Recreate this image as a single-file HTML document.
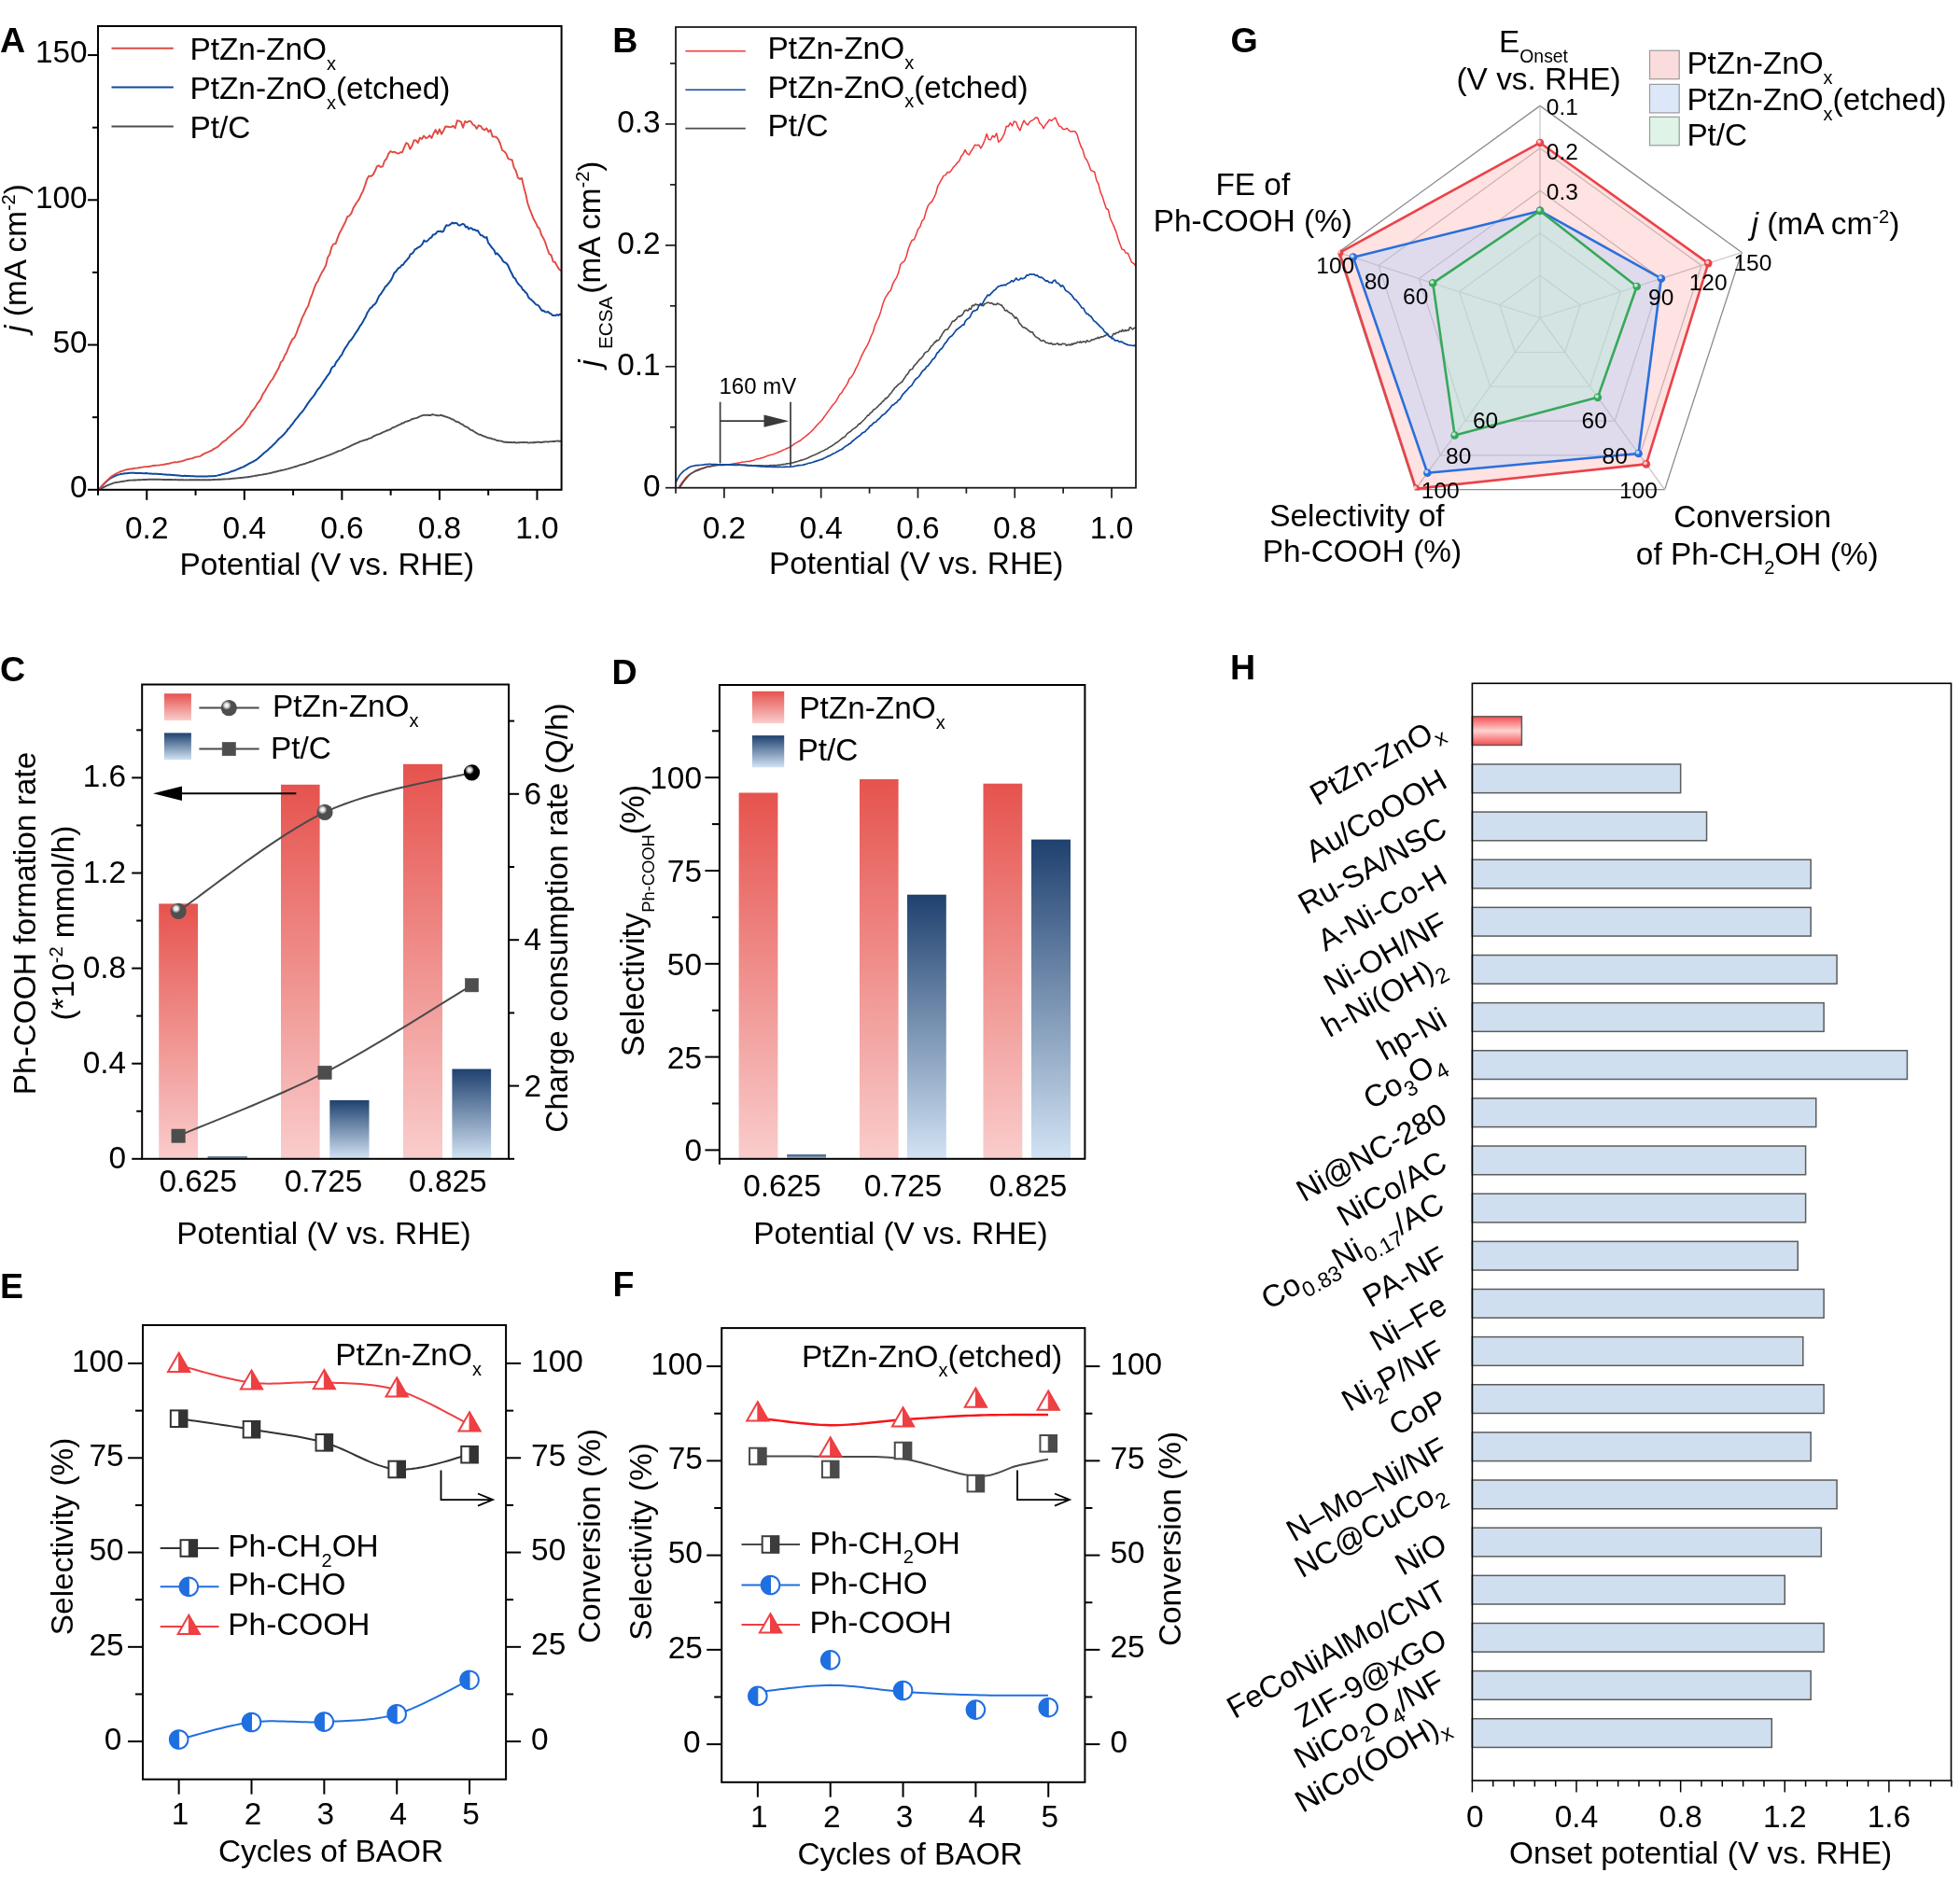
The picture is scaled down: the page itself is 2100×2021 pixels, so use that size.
<!DOCTYPE html>
<html><head><meta charset="utf-8"><title>Figure</title>
<style>html,body{margin:0;padding:0;background:#fff;}svg{display:block;will-change:transform;}text{font-family:"Liberation Sans",sans-serif;}</style>
</head><body>
<svg width="2100" height="2021" viewBox="0 0 2100 2021">
<defs>
<linearGradient id="gr" x1="0" y1="0" x2="0" y2="1"><stop offset="0" stop-color="#e6534e"/><stop offset="1" stop-color="#f9cdcc"/></linearGradient>
<linearGradient id="gb" x1="0" y1="0" x2="0" y2="1"><stop offset="0" stop-color="#1f416f"/><stop offset="1" stop-color="#d2e3f4"/></linearGradient>
<linearGradient id="gh" x1="0" y1="0" x2="0" y2="1"><stop offset="0" stop-color="#f54e4e"/><stop offset="0.5" stop-color="#fdd2d2"/><stop offset="1" stop-color="#f54e4e"/></linearGradient>
<radialGradient id="sph" cx="0.36" cy="0.34" r="0.28" fx="0.36" fy="0.34"><stop offset="0" stop-color="#ffffff"/><stop offset="0.45" stop-color="#e2e2e2"/><stop offset="0.8" stop-color="#8a8a8a"/><stop offset="1" stop-color="#4e4e4e"/></radialGradient>
<radialGradient id="sphk" cx="0.36" cy="0.34" r="0.28" fx="0.36" fy="0.34"><stop offset="0" stop-color="#ffffff"/><stop offset="0.45" stop-color="#dcdcdc"/><stop offset="0.8" stop-color="#606060"/><stop offset="1" stop-color="#000000"/></radialGradient>
<clipPath id="clipA"><rect x="105" y="28" width="496.6" height="497.3"/></clipPath>
<clipPath id="clipB"><rect x="724" y="29" width="493" height="494.2"/></clipPath>
<clipPath id="clipG"><polygon points="1650.00,112.40 1867.13,270.15 1784.19,525.40 1515.81,525.40 1432.87,270.15"/></clipPath>
</defs>
<rect x="0" y="0" width="2100" height="2021" fill="#fff"/>
<path d="M105.5 524.7L106.5 524.31L107.5 523.89L108.5 523.44L109.5 522.95L110.5 522.42L111.5 521.91L112.5 521.38L113.5 520.86L114.5 520.4L115.5 519.99L116.5 519.59L117.5 519.22L118.5 518.82L119.5 518.44L120.5 518.07L121.5 517.7L122.5 517.38L123.5 517.13L124.5 516.98L125.5 516.83L126.5 516.67L127.5 516.52L128.5 516.32L129.5 516.18L130.5 516.03L131.5 515.9L132.5 515.7L133.5 515.53L134.5 515.32L135.5 515.18L136.5 514.97L137.5 514.82L138.5 514.77L139.5 514.61L140.5 514.62L141.5 514.59L142.5 514.53L143.5 514.51L144.5 514.48L145.5 514.46L146.5 514.39L147.5 514.32L148.5 514.26L149.5 514.2L150.5 514.18L151.5 514.12L152.5 514.14L153.5 514.02L154.5 513.97L155.5 513.93L156.5 513.85L157.5 513.93L158.5 513.79L159.5 513.78L160.5 513.75L161.5 513.79L162.5 513.67L163.5 513.71L164.5 513.68L165.5 513.7L166.5 513.71L167.5 513.77L168.5 513.74L169.5 513.78L170.5 513.82L171.5 513.9L172.5 513.81L173.5 513.91L174.5 513.95L175.5 513.92L176.5 513.95L177.5 513.95L178.5 514.03L179.5 514.03L180.5 514.03L181.5 514.03L182.5 514.05L183.5 514.07L184.5 514.06L185.5 514.17L186.5 514.1L187.5 514.02L188.5 514.1L189.5 514.16L190.5 514.21L191.5 514.23L192.5 514.25L193.5 514.28L194.5 514.32L195.5 514.29L196.5 514.27L197.5 514.35L198.5 514.33L199.5 514.28L200.5 514.36L201.5 514.35L202.5 514.3L203.5 514.25L204.5 514.28L205.5 514.25L206.5 514.23L207.5 514.22L208.5 514.23L209.5 514.3L210.5 514.28L211.5 514.23L212.5 514.28L213.5 514.29L214.5 514.31L215.5 514.34L216.5 514.31L217.5 514.29L218.5 514.29L219.5 514.25L220.5 514.29L221.5 514.33L222.5 514.31L223.5 514.29L224.5 514.26L225.5 514.2L226.5 514.14L227.5 514.1L228.5 514.04L229.5 514L230.5 513.91L231.5 513.91L232.5 513.87L233.5 513.79L234.5 513.68L235.5 513.68L236.5 513.7L237.5 513.62L238.5 513.56L239.5 513.5L240.5 513.49L241.5 513.41L242.5 513.41L243.5 513.33L244.5 513.3L245.5 513.21L246.5 513.1L247.5 512.95L248.5 512.85L249.5 512.77L250.5 512.71L251.5 512.62L252.5 512.48L253.5 512.41L254.5 512.35L255.5 512.22L256.5 512.09L257.5 511.98L258.5 511.93L259.5 511.84L260.5 511.68L261.5 511.61L262.5 511.49L263.5 511.36L264.5 511.32L265.5 511.22L266.5 511.01L267.5 510.85L268.5 510.7L269.5 510.49L270.5 510.33L271.5 510.2L272.5 509.93L273.5 509.81L274.5 509.69L275.5 509.53L276.5 509.27L277.5 509.14L278.5 508.93L279.5 508.82L280.5 508.68L281.5 508.5L282.5 508.28L283.5 508.09L284.5 507.98L285.5 507.73L286.5 507.57L287.5 507.38L288.5 507.11L289.5 507.02L290.5 506.73L291.5 506.59L292.5 506.16L293.5 505.81L294.5 505.72L295.5 505.53L296.5 505.27L297.5 505.04L298.5 504.69L299.5 504.48L300.5 504.24L301.5 504.05L302.5 503.92L303.5 503.68L304.5 503.46L305.5 503.15L306.5 502.88L307.5 502.63L308.5 502.32L309.5 502.13L310.5 501.72L311.5 501.58L312.5 501.14L313.5 500.92L314.5 500.53L315.5 500.37L316.5 500.02L317.5 499.72L318.5 499.44L319.5 499.04L320.5 498.66L321.5 498.23L322.5 498.14L323.5 497.79L324.5 497.46L325.5 497.2L326.5 497.08L327.5 496.51L328.5 496.23L329.5 495.85L330.5 495.58L331.5 495.04L332.5 494.73L333.5 494.52L334.5 494.31L335.5 494.04L336.5 493.48L337.5 493.12L338.5 492.75L339.5 492.26L340.5 491.83L341.5 491.67L342.5 491.36L343.5 490.99L344.5 490.78L345.5 490.25L346.5 489.97L347.5 489.58L348.5 489.17L349.5 488.83L350.5 488.42L351.5 488.03L352.5 487.63L353.5 487.43L354.5 486.87L355.5 486.54L356.5 486.13L357.5 485.61L358.5 485.29L359.5 484.72L360.5 484.5L361.5 483.93L362.5 483.49L363.5 483.17L364.5 482.88L365.5 482.55L366.5 482.17L367.5 481.62L368.5 481.01L369.5 480.69L370.5 480.27L371.5 479.66L372.5 479.4L373.5 478.94L374.5 478.31L375.5 477.98L376.5 477.32L377.5 476.83L378.5 476.56L379.5 475.89L380.5 475.59L381.5 474.99L382.5 474.79L383.5 474.24L384.5 473.88L385.5 473.2L386.5 472.84L387.5 472.69L388.5 472.38L389.5 471.69L390.5 471.68L391.5 471.53L392.5 471.06L393.5 470.94L394.5 470.23L395.5 469.81L396.5 469.58L397.5 469.27L398.5 468.89L399.5 468.05L400.5 467.28L401.5 467.06L402.5 466.39L403.5 466.07L404.5 465.47L405.5 465.39L406.5 465.07L407.5 464.65L408.5 464.1L409.5 463.61L410.5 463.07L411.5 462.71L412.5 462.28L413.5 461.89L414.5 461.28L415.5 461.23L416.5 460.65L417.5 460.37L418.5 459.99L419.5 459.11L420.5 458.27L421.5 458.26L422.5 457.67L423.5 457.26L424.5 456.75L425.5 456.35L426.5 455.64L427.5 455.3L428.5 454.82L429.5 454.46L430.5 453.53L431.5 453.55L432.5 453.23L433.5 452.37L434.5 451.94L435.5 451.68L436.5 451.46L437.5 450.98L438.5 450.85L439.5 450.26L440.5 449.53L441.5 449.06L442.5 448.99L443.5 448.45L444.5 448.36L445.5 448.18L446.5 447.8L447.5 447.54L448.5 446.93L449.5 446.49L450.5 445.97L451.5 445.59L452.5 445.09L453.5 445.04L454.5 444.84L455.5 444.59L456.5 444.81L457.5 444.93L458.5 444.73L459.5 445.01L460.5 444.98L461.5 444.94L462.5 444.48L463.5 444.03L464.5 444.4L465.5 444.59L466.5 444.86L467.5 444.98L468.5 445.32L469.5 445.15L470.5 445.37L471.5 445.14L472.5 444.73L473.5 445.07L474.5 445.84L475.5 445.59L476.5 446.32L477.5 446.46L478.5 446.78L479.5 447.23L480.5 447.68L481.5 447.79L482.5 448.3L483.5 448.81L484.5 449.34L485.5 449.43L486.5 450.27L487.5 451.06L488.5 451.89L489.5 451.73L490.5 452.3L491.5 452.42L492.5 453.3L493.5 454.08L494.5 454.38L495.5 454.74L496.5 455.61L497.5 456.44L498.5 456.85L499.5 457.47L500.5 457.6L501.5 458.35L502.5 459.21L503.5 459.93L504.5 460.89L505.5 461.11L506.5 461.3L507.5 462.24L508.5 462.79L509.5 463.49L510.5 464.15L511.5 464.65L512.5 465.25L513.5 465.72L514.5 465.59L515.5 466.02L516.5 466.83L517.5 466.98L518.5 467.51L519.5 467.78L520.5 468.05L521.5 468.71L522.5 469.1L523.5 469.21L524.5 469.61L525.5 469.57L526.5 469.8L527.5 470.35L528.5 470.63L529.5 470.73L530.5 471.19L531.5 471.54L532.5 472.01L533.5 472.3L534.5 472.32L535.5 472.38L536.5 472.56L537.5 472.72L538.5 473.17L539.5 473.51L540.5 473.73L541.5 473.77L542.5 473.77L543.5 474.04L544.5 474.02L545.5 474.13L546.5 473.88L547.5 473.95L548.5 474.29L549.5 474.06L550.5 473.88L551.5 474.01L552.5 474.37L553.5 474.52L554.5 474.31L555.5 474.19L556.5 474.2L557.5 474.07L558.5 474.17L559.5 474.17L560.5 473.98L561.5 474.04L562.5 474.13L563.5 474.08L564.5 474.02L565.5 474.32L566.5 474.63L567.5 474.43L568.5 474.29L569.5 474.35L570.5 474.23L571.5 474.05L572.5 474.29L573.5 473.99L574.5 473.87L575.5 473.79L576.5 473.69L577.5 473.72L578.5 473.84L579.5 474.02L580.5 473.96L581.5 473.8L582.5 473.49L583.5 473.5L584.5 473.33L585.5 473.37L586.5 473.53L587.5 473.47L588.5 473.34L589.5 473.16L590.5 473.16L591.5 473.16L592.5 472.95L593.5 472.88L594.5 473.04L595.5 472.66L596.5 472.64L597.5 472.47L598.5 472.8L599.5 472.78L600.5 472.73L601.5 472.66L601.6 472.48" fill="none" stroke="#4d4d4d" stroke-width="1.9" stroke-linejoin="round" clip-path="url(#clipA)"/>
<path d="M105.5 524.7L107.1 523.08L108.7 521.38L110.3 519.64L111.9 518L113.5 516.43L115.1 515.03L116.7 513.7L118.3 512.52L119.9 511.56L121.5 510.78L123.1 510.07L124.7 509.37L126.3 508.86L127.9 508.41L129.5 507.91L131.1 507.85L132.7 507.6L134.3 507.33L135.9 507.16L137.5 506.99L139.1 506.87L140.7 506.76L142.3 506.82L143.9 506.76L145.5 506.97L147.1 506.9L148.7 506.97L150.3 507.04L151.9 507.12L153.5 507.16L155.1 507.27L156.7 507.08L158.3 507.27L159.9 507.4L161.5 507.48L163.1 507.7L164.7 507.68L166.3 507.77L167.9 507.72L169.5 507.89L171.1 507.89L172.7 507.95L174.3 508.3L175.9 508.43L177.5 508.51L179.1 508.63L180.7 508.65L182.3 508.75L183.9 508.95L185.5 508.96L187.1 509.18L188.7 509.23L190.3 509.43L191.9 509.52L193.5 509.78L195.1 509.91L196.7 509.9L198.3 509.85L199.9 509.92L201.5 510.03L203.1 510.06L204.7 510.19L206.3 510.32L207.9 510.36L209.5 510.39L211.1 510.51L212.7 510.52L214.3 510.6L215.9 510.55L217.5 510.61L219.1 510.51L220.7 510.39L222.3 510.38L223.9 510.31L225.5 510.24L227.1 510.23L228.7 510.22L230.3 509.93L231.9 509.72L233.5 509.39L235.1 509L236.7 508.66L238.3 508.14L239.9 507.81L241.5 507.37L243.1 506.95L244.7 506.45L246.3 505.88L247.9 505.25L249.5 504.68L251.1 504.21L252.7 503.57L254.3 502.92L255.9 502.24L257.5 501.49L259.1 500.87L260.7 500.33L262.3 499.29L263.9 498.52L265.5 497.69L267.1 496.73L268.7 495.85L270.3 495.03L271.9 494.27L273.5 493.29L275.1 492.28L276.7 490.95L278.3 489.65L279.9 488.2L281.5 486.8L283.1 485.29L284.7 484.04L286.3 482.86L287.9 481.29L289.5 479.84L291.1 478.39L292.7 476.75L294.3 475.3L295.9 473.64L297.5 471.7L299.1 469.96L300.7 468.68L302.3 467.21L303.9 465.77L305.5 463.96L307.1 462.09L308.7 459.67L310.3 458.23L311.9 455.87L313.5 454.25L315.1 451.8L316.7 449.71L318.3 447.91L319.9 445.82L321.5 443.65L323.1 442.01L324.7 440.03L326.3 437.83L327.9 435.36L329.5 432.85L331.1 430.61L332.7 428.37L334.3 426.35L335.9 424.55L337.5 422.14L339.1 419.51L340.7 417.06L342.3 415.45L343.9 412.95L345.5 410.54L347.1 408.15L348.7 405.91L350.3 403.38L351.9 401.43L353.5 399.08L355.1 394.83L356.7 392.9L358.3 392.39L359.9 388.65L361.5 386.35L363.1 384.54L364.7 381.83L366.3 380.05L367.9 376.43L369.5 373.42L371.1 371.35L372.7 368.77L374.3 366.06L375.9 364.56L377.5 362.41L379.1 359.97L380.7 357.27L382.3 355.18L383.9 352.66L385.5 349.71L387.1 347.73L388.7 345.08L390.3 341.91L391.9 339.23L393.5 335.2L395.1 332.78L396.7 330.22L398.3 329.31L399.9 327.1L401.5 326.17L403.1 324.16L404.7 320.46L406.3 316.88L407.9 315.29L409.5 312.72L411.1 310.43L412.7 307.37L414.3 306.17L415.9 304.09L417.5 302.13L419.1 299.94L420.7 296.63L422.3 292.62L423.9 291.3L425.5 289.19L427.1 287.16L428.7 286.54L430.3 284.27L431.9 283.75L433.5 281.25L435.1 279.55L436.7 277.56L438.3 275.95L439.9 272.2L441.5 271.89L443.1 269.96L444.7 267.09L446.3 266.5L447.9 265.13L449.5 264.66L451.1 263.12L452.7 261.3L454.3 257.64L455.9 258.71L457.5 258.42L459.1 256.88L460.7 255.15L462.3 254.56L463.9 251.53L465.5 251.34L467.1 250.12L468.7 247.99L470.3 248.05L471.9 247.66L473.5 248.56L475.1 247.74L476.7 244.04L478.3 241.34L479.9 241.66L481.5 241.28L483.1 239.97L484.7 238.62L486.3 239.44L487.9 238.87L489.5 239.19L491.1 241.18L492.7 241.51L494.3 240.62L495.9 239.84L497.5 240.69L499.1 243.59L500.7 242.89L502.3 245.47L503.9 244.3L505.5 244.74L507.1 246.36L508.7 245.98L510.3 247.26L511.9 246.99L513.5 249.75L515.1 252.32L516.7 252.28L518.3 253.82L519.9 254.68L521.5 254.15L523.1 260.21L524.7 262.17L526.3 264.5L527.9 266.34L529.5 268.14L531.1 272.39L532.7 271.29L534.3 273.26L535.9 275.09L537.5 277.16L539.1 280.04L540.7 281.06L542.3 281.98L543.9 283.71L545.5 287.28L547.1 290.81L548.7 293.75L550.3 297.24L551.9 298.32L553.5 301.5L555.1 304.02L556.7 305.67L558.3 307.02L559.9 310.12L561.5 311.36L563.1 313.35L564.7 314.81L566.3 318.8L567.9 320.22L569.5 321.4L571.1 322.97L572.7 324.55L574.3 326.39L575.9 326.69L577.5 328.03L579.1 330.66L580.7 332.92L582.3 332.86L583.9 334.09L585.5 334.59L587.1 333.99L588.7 335.57L590.3 336.1L591.9 337.97L593.5 338.09L595.1 338.23L596.7 337.21L598.3 337.9L599.9 336.68L601.5 337.69L601.6 338.37" fill="none" stroke="#0f4aa0" stroke-width="2.0" stroke-linejoin="round" clip-path="url(#clipA)"/>
<path d="M105.5 524.7L107.6 522.54L109.7 520.26L111.8 517.93L113.9 515.67L116 513.65L118.1 511.72L120.2 510.01L122.3 508.72L124.4 507.52L126.5 506.51L128.6 505.5L130.7 504.84L132.8 504.21L134.9 503.39L137 503L139.1 502.57L141.2 502.52L143.3 502.03L145.4 501.59L147.5 501.45L149.6 501.06L151.7 500.84L153.8 500.39L155.9 500.13L158 500.02L160.1 499.79L162.2 499.44L164.3 498.94L166.4 498.82L168.5 498.58L170.6 498.43L172.7 498.12L174.8 497.94L176.9 497.45L179 497.06L181.1 496.76L183.2 496.08L185.3 495.69L187.4 495.28L189.5 495.39L191.6 494.81L193.7 494.44L195.8 493.97L197.9 493.25L200 492.32L202.1 492.12L204.2 491.44L206.3 491.07L208.4 490.12L210.5 489.56L212.6 489.33L214.7 488.83L216.8 487.36L218.9 486.06L221 485.21L223.1 484.46L225.2 483.41L227.3 482.37L229.4 480.83L231.5 479.79L233.6 478.6L235.7 476.66L237.8 474.5L239.9 472.82L242 471.67L244.1 469.29L246.2 467.77L248.3 465.68L250.4 464L252.5 462.14L254.6 460.29L256.7 458.91L258.8 456.46L260.9 454.34L263 451.22L265.1 448.15L267.2 445.7L269.3 441.23L271.4 438.99L273.5 436.39L275.6 432.63L277.7 430.21L279.8 426.68L281.9 421.83L284 419.05L286.1 415.16L288.2 411.63L290.3 408.25L292.4 405.81L294.5 401.76L296.6 397.74L298.7 394.19L300.8 388.44L302.9 386.35L305 380.98L307.1 377.66L309.2 372.26L311.3 367.5L313.4 363.45L315.5 361.66L317.6 357.12L319.7 351.01L321.8 346.01L323.9 340.12L326 336.25L328.1 331.26L330.2 327.99L332.3 320.73L334.4 315.55L336.5 309.43L338.6 303.98L340.7 300.95L342.8 296.07L344.9 291.91L347 288.44L349.1 284.37L351.2 275.83L353.3 272.51L355.4 264.56L357.5 261.34L359.6 261.18L361.7 255.18L363.8 249.76L365.9 245.99L368 241.76L370.1 237.69L372.2 232.21L374.3 231.27L376.4 228.57L378.5 223.06L380.6 219.42L382.7 216.29L384.8 213.42L386.9 208.52L389 204.65L391.1 198.62L393.2 192.04L395.3 188.53L397.4 188.84L399.5 187.51L401.6 183.53L403.7 178.62L405.8 177.22L407.9 178.93L410 178.29L412.1 172.29L414.2 170.01L416.3 164.66L418.4 162L420.5 163.18L422.6 162.64L424.7 163.96L426.8 164.68L428.9 163.32L431 163.23L433.1 157.9L435.2 153.15L437.3 154.28L439.4 159.82L441.5 156.28L443.6 150.27L445.7 150.41L447.8 153.08L449.9 147.65L452 149.08L454.1 145.54L456.2 147.97L458.3 147.3L460.4 145.13L462.5 147.97L464.6 142.75L466.7 139.11L468.8 143.67L470.9 138.48L473 143.69L475.1 140.15L477.2 135.54L479.3 135.77L481.4 136.03L483.5 136.13L485.6 134.89L487.7 137.36L489.8 129.28L491.9 129.69L494 130.61L496.1 136.76L498.2 129.95L500.3 131.17L502.4 129.68L504.5 130.07L506.6 133.52L508.7 134.54L510.8 137.88L512.9 134.34L515 135.14L517.1 138.19L519.2 139.38L521.3 137.41L523.4 141.35L525.5 139.15L527.6 146.29L529.7 146.53L531.8 146.93L533.9 149.4L536 154L538.1 160.95L540.2 162.21L542.3 164.53L544.4 169.91L546.5 170.87L548.6 171.26L550.7 179.45L552.8 182.94L554.9 190.52L557 191.86L559.1 190.96L561.2 200.38L563.3 207.93L565.4 217.97L567.5 223.82L569.6 229.13L571.7 234.85L573.8 238.15L575.9 242.95L578 244.97L580.1 251.86L582.2 255.23L584.3 259.93L586.4 266.55L588.5 272.18L590.6 273.32L592.7 280.4L594.8 280.99L596.9 285.06L599 288.52L601.1 289.93L601.6 290.12" fill="none" stroke="#df4a41" stroke-width="1.9" stroke-linejoin="round" clip-path="url(#clipA)"/>
<rect x="105" y="28" width="496.6" height="496.8" fill="none" stroke="#000" stroke-width="2" />
<line x1="94" y1="524.8" x2="105" y2="524.8" stroke="#000" stroke-width="2" />
<text x="93.6" y="533.1" font-size="33.4" text-anchor="end" fill="#000" >0</text>
<line x1="94" y1="369.55" x2="105" y2="369.55" stroke="#000" stroke-width="2" />
<text x="93.6" y="377.85" font-size="33.4" text-anchor="end" fill="#000" >50</text>
<line x1="94" y1="214.3" x2="105" y2="214.3" stroke="#000" stroke-width="2" />
<text x="93.6" y="222.6" font-size="33.4" text-anchor="end" fill="#000" >100</text>
<line x1="94" y1="59.05" x2="105" y2="59.05" stroke="#000" stroke-width="2" />
<text x="93.6" y="67.35" font-size="33.4" text-anchor="end" fill="#000" >150</text>
<line x1="99" y1="447.17" x2="105" y2="447.17" stroke="#000" stroke-width="2" />
<line x1="99" y1="291.92" x2="105" y2="291.92" stroke="#000" stroke-width="2" />
<line x1="99" y1="136.68" x2="105" y2="136.68" stroke="#000" stroke-width="2" />
<line x1="105" y1="524.8" x2="105" y2="530.8" stroke="#000" stroke-width="2" />
<line x1="157.27" y1="524.8" x2="157.27" y2="535.8" stroke="#000" stroke-width="2" />
<text x="157.27" y="577.3" font-size="33.4" text-anchor="middle" fill="#000" >0.2</text>
<line x1="209.55" y1="524.8" x2="209.55" y2="530.8" stroke="#000" stroke-width="2" />
<line x1="261.82" y1="524.8" x2="261.82" y2="535.8" stroke="#000" stroke-width="2" />
<text x="261.82" y="577.3" font-size="33.4" text-anchor="middle" fill="#000" >0.4</text>
<line x1="314.09" y1="524.8" x2="314.09" y2="530.8" stroke="#000" stroke-width="2" />
<line x1="366.37" y1="524.8" x2="366.37" y2="535.8" stroke="#000" stroke-width="2" />
<text x="366.37" y="577.3" font-size="33.4" text-anchor="middle" fill="#000" >0.6</text>
<line x1="418.64" y1="524.8" x2="418.64" y2="530.8" stroke="#000" stroke-width="2" />
<line x1="470.92" y1="524.8" x2="470.92" y2="535.8" stroke="#000" stroke-width="2" />
<text x="470.92" y="577.3" font-size="33.4" text-anchor="middle" fill="#000" >0.8</text>
<line x1="523.19" y1="524.8" x2="523.19" y2="530.8" stroke="#000" stroke-width="2" />
<line x1="575.46" y1="524.8" x2="575.46" y2="535.8" stroke="#000" stroke-width="2" />
<text x="575.46" y="577.3" font-size="33.4" text-anchor="middle" fill="#000" >1.0</text>
<text x="350.3" y="616" font-size="33.4" text-anchor="middle" fill="#000" >Potential (V vs. RHE)</text>
<text x="27.8" y="276.5" font-size="33.4" text-anchor="middle" fill="#000" transform="rotate(-90 27.8 276.5)" ><tspan font-style="italic" dy="0">j</tspan> (mA cm<tspan font-size="20.04" dy="-12.02">-2</tspan><tspan dy="12.02">)</tspan></text>
<text x="0" y="55.5" font-size="37.6" text-anchor="start" fill="#000" font-weight="bold" >A</text>
<line x1="119.5" y1="51.8" x2="185.8" y2="51.8" stroke="#df4a41" stroke-width="2" />
<text x="203.4" y="64.4" font-size="33.4" text-anchor="start" fill="#000" >PtZn-ZnO<tspan font-size="20.04" dy="10.69">x</tspan></text>
<line x1="119.5" y1="93.6" x2="185.8" y2="93.6" stroke="#0f4aa0" stroke-width="2" />
<text x="203.4" y="106.2" font-size="33.4" text-anchor="start" fill="#000" >PtZn-ZnO<tspan font-size="20.04" dy="10.69">x</tspan><tspan dy="-10.69">(etched)</tspan></text>
<line x1="119.5" y1="135.4" x2="185.8" y2="135.4" stroke="#4d4d4d" stroke-width="2" />
<text x="203.4" y="148" font-size="33.4" text-anchor="start" fill="#000" >Pt/C</text>
<path d="M727.5 521.73L729.6 518.58L731.7 515.71L733.8 513.13L735.9 510.86L738 509.04L740.1 507.52L742.2 506.27L744.3 504.86L746.4 503.68L748.5 502.95L750.6 502.22L752.7 501.66L754.8 501.02L756.9 500.31L759 499.74L761.1 499.71L763.2 499.09L765.3 498.56L767.4 498.16L769.5 498.11L771.6 498.05L773.7 497.9L775.8 497.81L777.9 497.74L780 497.68L782.1 497.59L784.2 497.26L786.3 496.64L788.4 496.61L790.5 496.1L792.6 495.89L794.7 495.35L796.8 495.12L798.9 494.64L801 494.37L803.1 494.58L805.2 493.83L807.3 493.34L809.4 492.39L811.5 491.8L813.6 491.41L815.7 490.75L817.8 490.21L819.9 489.54L822 488.59L824.1 488.09L826.2 487.16L828.3 486.93L830.4 485.88L832.5 485.22L834.6 484.26L836.7 483.53L838.8 482.29L840.9 481.61L843 480.47L845.1 479.72L847.2 478.53L849.3 477.11L851.4 475.41L853.5 474.35L855.6 473.03L857.7 472.02L859.8 470.05L861.9 468.53L864 466.89L866.1 465.11L868.2 463.29L870.3 461.38L872.4 459.05L874.5 456.58L876.6 454.34L878.7 452.21L880.8 450L882.9 447.06L885 444.15L887.1 441.18L889.2 438.33L891.3 435.28L893.4 432.69L895.5 430.52L897.6 426.58L899.7 422.76L901.8 420.93L903.9 417.17L906 414.05L908.1 410.65L910.2 405.63L912.3 403.95L914.4 400.7L916.5 395.84L918.6 391.88L920.7 387.28L922.8 381.95L924.9 377.81L927 373.97L929.1 370.47L931.2 365.89L933.3 360.27L935.4 355.97L937.5 348.61L939.6 344L941.7 339.67L943.8 333.41L945.9 325.74L948 320.22L950.1 316.56L952.2 313.23L954.3 311.18L956.4 304.68L958.5 300.72L960.6 297.41L962.7 292.07L964.8 283.4L966.9 281.21L969 279.92L971.1 274.77L973.2 266.71L975.3 261.17L977.4 257.15L979.5 256.81L981.6 251.26L983.7 245.51L985.8 243.11L987.9 236.7L990 234.76L992.1 226.63L994.2 220.65L996.3 217.9L998.4 216.11L1000.5 212.06L1002.6 207.72L1004.7 199.52L1006.8 195.79L1008.9 192.03L1011 188.37L1013.1 187.61L1015.2 184.47L1017.3 184.66L1019.4 182.41L1021.5 179.21L1023.6 176.91L1025.7 174.41L1027.8 172.42L1029.9 167.41L1032 164.94L1034.1 160.6L1036.2 164.7L1038.3 165.84L1040.4 162.12L1042.5 159.04L1044.6 155.16L1046.7 155.79L1048.8 155.35L1050.9 158.84L1053 155.13L1055.1 150.17L1057.2 143.47L1059.3 149.47L1061.4 149.73L1063.5 145.42L1065.6 147.03L1067.7 142.81L1069.8 152.21L1071.9 150.47L1074 147.45L1076.1 143.21L1078.2 135.34L1080.3 135.55L1082.4 131.66L1084.5 134.97L1086.6 130.06L1088.7 130.84L1090.8 136.45L1092.9 139.88L1095 133.82L1097.1 129.14L1099.2 132.4L1101.3 133.98L1103.4 130.35L1105.5 129.16L1107.6 128.08L1109.7 125.89L1111.8 126.28L1113.9 131.96L1116 133.73L1118.1 137.72L1120.2 133.73L1122.3 131.27L1124.4 128.15L1126.5 129.44L1128.6 127.76L1130.7 125.98L1132.8 131.04L1134.9 135.15L1137 135.91L1139.1 138.43L1141.2 138.38L1143.3 137.35L1145.4 139.96L1147.5 141.06L1149.6 140.86L1151.7 140.85L1153.8 143.41L1155.9 150.56L1158 156.75L1160.1 160.36L1162.2 168.31L1164.3 171.26L1166.4 175.81L1168.5 182.01L1170.6 183.35L1172.7 184.27L1174.8 193.13L1176.9 197.05L1179 205.59L1181.1 210.48L1183.2 217.24L1185.3 223.51L1187.4 224.73L1189.5 233.79L1191.6 238.49L1193.7 243.13L1195.8 248.37L1197.9 255.47L1200 261.6L1202.1 267.16L1204.2 267.54L1206.3 271.06L1208.4 271.32L1210.5 276.28L1212.6 281.04L1214.7 282.28L1216.8 285.03L1217 286.53" fill="none" stroke="#f0383a" stroke-width="1.5" stroke-linejoin="round" clip-path="url(#clipB)"/>
<path d="M728.5 522.24L729.5 520.69L730.5 519.1L731.5 517.51L732.5 516.06L733.5 514.73L734.5 513.51L735.5 512.39L736.5 511.26L737.5 510.13L738.5 509.04L739.5 508.13L740.5 507.36L741.5 506.85L742.5 506.35L743.5 505.71L744.5 505.31L745.5 504.81L746.5 504.46L747.5 504.14L748.5 503.73L749.5 503.13L750.5 502.88L751.5 502.36L752.5 502.24L753.5 501.77L754.5 501.42L755.5 501.31L756.5 500.77L757.5 500.58L758.5 500.27L759.5 500.07L760.5 499.84L761.5 499.78L762.5 499.53L763.5 499.38L764.5 499.23L765.5 498.8L766.5 498.89L767.5 498.71L768.5 498.44L769.5 498.39L770.5 498.52L771.5 498.57L772.5 498.36L773.5 498.33L774.5 498.29L775.5 498.34L776.5 498.2L777.5 498.23L778.5 498L779.5 497.89L780.5 498.02L781.5 498.1L782.5 498.06L783.5 498.13L784.5 498.13L785.5 498.2L786.5 498.3L787.5 498.28L788.5 498.32L789.5 498.2L790.5 498.13L791.5 497.89L792.5 498.12L793.5 498.21L794.5 498.33L795.5 498.13L796.5 498.21L797.5 498.26L798.5 498.16L799.5 498.45L800.5 498.65L801.5 498.48L802.5 498.62L803.5 498.86L804.5 498.65L805.5 498.82L806.5 498.99L807.5 499.12L808.5 498.81L809.5 498.7L810.5 498.8L811.5 498.98L812.5 498.79L813.5 498.77L814.5 498.73L815.5 498.97L816.5 498.91L817.5 499.02L818.5 499.09L819.5 499.17L820.5 499.1L821.5 499.02L822.5 499.05L823.5 498.96L824.5 498.69L825.5 498.61L826.5 498.72L827.5 498.66L828.5 498.54L829.5 498.53L830.5 498.87L831.5 498.6L832.5 498.49L833.5 498.38L834.5 498.17L835.5 498.18L836.5 498.08L837.5 497.92L838.5 497.56L839.5 497.64L840.5 497.57L841.5 497.36L842.5 496.87L843.5 496.89L844.5 496.69L845.5 496.62L846.5 496.42L847.5 496.14L848.5 496.09L849.5 495.8L850.5 495.67L851.5 495.17L852.5 494.88L853.5 494.81L854.5 494.5L855.5 494.05L856.5 493.66L857.5 493.36L858.5 493.13L859.5 492.94L860.5 492.57L861.5 492.27L862.5 491.93L863.5 491.45L864.5 491.2L865.5 490.78L866.5 490.23L867.5 489.76L868.5 489.34L869.5 488.82L870.5 488.25L871.5 487.99L872.5 487.53L873.5 487.25L874.5 486.64L875.5 486.21L876.5 485.76L877.5 485.16L878.5 484.73L879.5 484.1L880.5 483.59L881.5 483.32L882.5 482.86L883.5 482.29L884.5 481.59L885.5 481.26L886.5 481.05L887.5 479.74L888.5 479.43L889.5 478.78L890.5 478.32L891.5 477.78L892.5 476.7L893.5 476.47L894.5 475.48L895.5 474.75L896.5 474.26L897.5 473.52L898.5 472.88L899.5 471.98L900.5 470.99L901.5 470.36L902.5 469.35L903.5 469.09L904.5 468.26L905.5 467.77L906.5 466.4L907.5 465.07L908.5 463.94L909.5 463.52L910.5 462.63L911.5 462.26L912.5 461.1L913.5 460.08L914.5 459.63L915.5 458.74L916.5 458.18L917.5 457.5L918.5 456.57L919.5 455.13L920.5 454.07L921.5 454.16L922.5 452.9L923.5 452L924.5 451.04L925.5 450.02L926.5 448.96L927.5 447.78L928.5 446.7L929.5 445.09L930.5 445.19L931.5 444.06L932.5 442.52L933.5 441.97L934.5 441.26L935.5 439.55L936.5 438.57L937.5 438.42L938.5 437.47L939.5 436.46L940.5 435.73L941.5 434.41L942.5 433.2L943.5 432.96L944.5 431.57L945.5 430.45L946.5 429.74L947.5 428.63L948.5 427.01L949.5 427.19L950.5 425.81L951.5 425.41L952.5 423.96L953.5 421.95L954.5 421.67L955.5 420.15L956.5 418.53L957.5 417.61L958.5 415.53L959.5 415.3L960.5 414.06L961.5 413.17L962.5 411.84L963.5 411.47L964.5 410.53L965.5 409.86L966.5 409.25L967.5 407.57L968.5 406.02L969.5 404.77L970.5 402.89L971.5 401.5L972.5 400.99L973.5 399.16L974.5 396.98L975.5 396.26L976.5 395.67L977.5 395.55L978.5 393.51L979.5 391.74L980.5 390.92L981.5 389.75L982.5 388.83L983.5 387.26L984.5 386.35L985.5 384.78L986.5 384.46L987.5 383.25L988.5 382.29L989.5 380.56L990.5 378.45L991.5 377.86L992.5 376.98L993.5 376.81L994.5 376.09L995.5 374.45L996.5 373.08L997.5 371.14L998.5 370.32L999.5 369.55L1000.5 368.15L1001.5 366.38L1002.5 366.76L1003.5 364.7L1004.5 365.12L1005.5 364.42L1006.5 363.82L1007.5 361.07L1008.5 360.32L1009.5 357.78L1010.5 356.79L1011.5 354.79L1012.5 353.88L1013.5 353.06L1014.5 353.32L1015.5 353L1016.5 351.08L1017.5 349.64L1018.5 347.81L1019.5 346.16L1020.5 344.23L1021.5 344.07L1022.5 344.18L1023.5 342.58L1024.5 342.36L1025.5 340.53L1026.5 339.35L1027.5 338.79L1028.5 339.37L1029.5 338L1030.5 338.08L1031.5 336.7L1032.5 334.93L1033.5 332.82L1034.5 332.78L1035.5 331.97L1036.5 332.99L1037.5 332.78L1038.5 330.45L1039.5 331.3L1040.5 331.14L1041.5 327.53L1042.5 327.17L1043.5 327.9L1044.5 326.23L1045.5 325.92L1046.5 326.69L1047.5 326.64L1048.5 326.68L1049.5 326.75L1050.5 325.25L1051.5 327.52L1052.5 326.75L1053.5 327.79L1054.5 325.89L1055.5 325.61L1056.5 325.14L1057.5 324.32L1058.5 324.31L1059.5 324.28L1060.5 324.91L1061.5 324.9L1062.5 324.77L1063.5 325.24L1064.5 326.52L1065.5 325.99L1066.5 326.47L1067.5 326.57L1068.5 324.96L1069.5 325.49L1070.5 326.06L1071.5 326.21L1072.5 327.33L1073.5 327.13L1074.5 329.26L1075.5 329.92L1076.5 332.26L1077.5 333.05L1078.5 332.33L1079.5 333.35L1080.5 334.49L1081.5 334.81L1082.5 335.66L1083.5 335.83L1084.5 336.64L1085.5 338.35L1086.5 339.07L1087.5 341.23L1088.5 339.87L1089.5 340.85L1090.5 342.23L1091.5 345.01L1092.5 346.58L1093.5 347.56L1094.5 348.73L1095.5 350.33L1096.5 350.85L1097.5 350.85L1098.5 351.68L1099.5 351.81L1100.5 352.7L1101.5 354.02L1102.5 354.37L1103.5 355.42L1104.5 355.92L1105.5 355.86L1106.5 356.14L1107.5 358.37L1108.5 359.36L1109.5 360.88L1110.5 361.28L1111.5 361.89L1112.5 362.68L1113.5 362.85L1114.5 364.49L1115.5 365.26L1116.5 365.43L1117.5 364.67L1118.5 364.92L1119.5 365.85L1120.5 367.26L1121.5 367.23L1122.5 367.37L1123.5 367.97L1124.5 368.09L1125.5 368.09L1126.5 367.5L1127.5 369.09L1128.5 369.07L1129.5 368.85L1130.5 369.18L1131.5 368.59L1132.5 368.16L1133.5 367.97L1134.5 369.48L1135.5 368.94L1136.5 369.64L1137.5 368.97L1138.5 368.14L1139.5 368.52L1140.5 368.57L1141.5 368.57L1142.5 370.29L1143.5 369.97L1144.5 369.17L1145.5 369.78L1146.5 369.15L1147.5 369.9L1148.5 368.17L1149.5 369.19L1150.5 368.04L1151.5 367.66L1152.5 368.09L1153.5 367.3L1154.5 366.4L1155.5 366.78L1156.5 366.93L1157.5 365.91L1158.5 367.24L1159.5 366.47L1160.5 366.13L1161.5 366.15L1162.5 366.27L1163.5 366.99L1164.5 364.83L1165.5 365.27L1166.5 366.03L1167.5 365.77L1168.5 365.25L1169.5 364.05L1170.5 364.4L1171.5 363.8L1172.5 363.82L1173.5 362.77L1174.5 362.66L1175.5 362.58L1176.5 361.37L1177.5 362.54L1178.5 362.09L1179.5 360.82L1180.5 360.83L1181.5 360.98L1182.5 360.54L1183.5 359.63L1184.5 359.65L1185.5 358.63L1186.5 357.73L1187.5 359.35L1188.5 360.43L1189.5 360.94L1190.5 361.37L1191.5 360.72L1192.5 358.43L1193.5 357.43L1194.5 358.1L1195.5 357.04L1196.5 356.45L1197.5 356.27L1198.5 356.39L1199.5 354.86L1200.5 355.07L1201.5 355.38L1202.5 353.32L1203.5 354.67L1204.5 354.86L1205.5 353.49L1206.5 354.76L1207.5 354.06L1208.5 353.57L1209.5 354.02L1210.5 350.7L1211.5 351.03L1212.5 352.02L1213.5 352.82L1214.5 352.04L1215.5 351.53L1216.5 350.81L1217 351.34" fill="none" stroke="#4a4a4a" stroke-width="1.6" stroke-linejoin="round" clip-path="url(#clipB)"/>
<path d="M724 517.26L725.6 513.83L727.2 510.87L728.8 508.53L730.4 506.78L732 505.21L733.6 503.87L735.2 502.94L736.8 501.8L738.4 500.78L740 500.01L741.6 499.54L743.2 499.24L744.8 498.93L746.4 498.68L748 498.58L749.6 498.47L751.2 498.23L752.8 498.13L754.4 497.94L756 497.62L757.6 497.59L759.2 497.46L760.8 497.36L762.4 497.64L764 497.65L765.6 497.51L767.2 497.52L768.8 497.87L770.4 497.73L772 497.81L773.6 497.86L775.2 497.9L776.8 497.96L778.4 497.87L780 497.86L781.6 497.92L783.2 497.95L784.8 498.14L786.4 498.36L788 498.18L789.6 498.31L791.2 498.2L792.8 498.23L794.4 498.35L796 498.52L797.6 498.59L799.2 498.4L800.8 498.86L802.4 498.94L804 498.99L805.6 499.23L807.2 499.24L808.8 499.2L810.4 499.47L812 499.63L813.6 499.6L815.2 499.8L816.8 499.88L818.4 499.76L820 500.07L821.6 500.08L823.2 499.94L824.8 500.08L826.4 500.14L828 500.3L829.6 500.13L831.2 500.35L832.8 500.44L834.4 500.45L836 500.42L837.6 500.48L839.2 500.42L840.8 500.31L842.4 500.13L844 500.25L845.6 500.28L847.2 500.17L848.8 500.01L850.4 499.87L852 499.26L853.6 499.17L855.2 498.64L856.8 498.57L858.4 498.49L860 498.38L861.6 497.81L863.2 497.44L864.8 496.98L866.4 496.25L868 496.1L869.6 495.71L871.2 495.29L872.8 494.66L874.4 494.15L876 493.58L877.6 493.16L879.2 492.47L880.8 492.33L882.4 491.3L884 490.47L885.6 489.73L887.2 488.83L888.8 488.39L890.4 487.61L892 486.46L893.6 485.74L895.2 485.19L896.8 483.98L898.4 483.22L900 482.22L901.6 481.72L903.2 480.47L904.8 479.1L906.4 477.81L908 477.2L909.6 475.75L911.2 475.14L912.8 473.23L914.4 471.98L916 470.7L917.6 469.28L919.2 468.07L920.8 467.09L922.4 465.55L924 463.88L925.6 463.23L927.2 462.23L928.8 460.3L930.4 458.94L932 456.55L933.6 455.89L935.2 454L936.8 452.62L938.4 452.27L940 450.16L941.6 448.97L943.2 447.32L944.8 445.54L946.4 444.29L948 443.57L949.6 441.67L951.2 439.84L952.8 438.29L954.4 436.2L956 433.98L957.6 433.58L959.2 432.06L960.8 431.21L962.4 428.83L964 428.15L965.6 425.32L967.2 422.69L968.8 421.08L970.4 419.34L972 417.85L973.6 415.69L975.2 414.33L976.8 413.1L978.4 410.37L980 407.6L981.6 405.83L983.2 404.75L984.8 403.25L986.4 400.81L988 398.2L989.6 396.57L991.2 395.46L992.8 392.81L994.4 391.91L996 389.76L997.6 387.76L999.2 385.1L1000.8 384.2L1002.4 381.73L1004 378.29L1005.6 377.29L1007.2 374.79L1008.8 373.68L1010.4 371.4L1012 368.63L1013.6 366.93L1015.2 364.59L1016.8 362.17L1018.4 360.72L1020 359.74L1021.6 357.66L1023.2 355.6L1024.8 353.34L1026.4 352.43L1028 350.92L1029.6 350L1031.2 348.2L1032.8 348.15L1034.4 343.82L1036 342.24L1037.6 341.12L1039.2 340.04L1040.8 336.24L1042.4 333.75L1044 332.8L1045.6 332.54L1047.2 331.58L1048.8 327.56L1050.4 326.36L1052 325.96L1053.6 323.69L1055.2 320.56L1056.8 318.46L1058.4 315.95L1060 316.73L1061.6 314.91L1063.2 313.19L1064.8 311.21L1066.4 310.39L1068 308.49L1069.6 306.86L1071.2 306.6L1072.8 305.84L1074.4 305.88L1076 305.16L1077.6 305.6L1079.2 304.01L1080.8 303.19L1082.4 302.42L1084 300.59L1085.6 301.81L1087.2 300.19L1088.8 297.99L1090.4 299.98L1092 299.98L1093.6 298.14L1095.2 298.56L1096.8 298.32L1098.4 297.55L1100 294.78L1101.6 295.06L1103.2 293.87L1104.8 293.89L1106.4 294.03L1108 293.83L1109.6 295.44L1111.2 294.9L1112.8 296.62L1114.4 297.32L1116 297.14L1117.6 298.33L1119.2 299.86L1120.8 301.4L1122.4 300.68L1124 302.73L1125.6 302.47L1127.2 303.22L1128.8 300.74L1130.4 300.15L1132 302.97L1133.6 303.31L1135.2 304.88L1136.8 307.08L1138.4 305.73L1140 307.79L1141.6 311.13L1143.2 312.29L1144.8 312.96L1146.4 314.73L1148 315.9L1149.6 318.2L1151.2 320.79L1152.8 321.36L1154.4 323.44L1156 325.22L1157.6 327.61L1159.2 329.94L1160.8 330.22L1162.4 333.64L1164 336.07L1165.6 336.35L1167.2 338.21L1168.8 338.9L1170.4 341.23L1172 343.85L1173.6 344.65L1175.2 346.29L1176.8 347.87L1178.4 349.64L1180 351.19L1181.6 352.41L1183.2 355.17L1184.8 356.59L1186.4 357.48L1188 360.18L1189.6 360.81L1191.2 362.84L1192.8 362.46L1194.4 364.85L1196 364.88L1197.6 364.88L1199.2 366.39L1200.8 366.08L1202.4 366.42L1204 367.86L1205.6 368.16L1207.2 369.17L1208.8 369.58L1210.4 369.92L1212 369.98L1213.6 370.46L1215.2 370.12L1216.8 370.83L1217 369.71" fill="none" stroke="#0d48a1" stroke-width="1.7" stroke-linejoin="round" clip-path="url(#clipB)"/>
<rect x="724" y="29" width="493" height="493.7" fill="none" stroke="#1c1c1c" stroke-width="1.8" />
<line x1="713" y1="522.7" x2="724" y2="522.7" stroke="#1c1c1c" stroke-width="1.7" />
<text x="707.6" y="531.7" font-size="33.4" text-anchor="end" fill="#000" >0</text>
<line x1="718" y1="457.74" x2="724" y2="457.74" stroke="#1c1c1c" stroke-width="1.7" />
<line x1="713" y1="392.78" x2="724" y2="392.78" stroke="#1c1c1c" stroke-width="1.7" />
<text x="707.6" y="401.78" font-size="33.4" text-anchor="end" fill="#000" >0.1</text>
<line x1="718" y1="327.82" x2="724" y2="327.82" stroke="#1c1c1c" stroke-width="1.7" />
<line x1="713" y1="262.86" x2="724" y2="262.86" stroke="#1c1c1c" stroke-width="1.7" />
<text x="707.6" y="271.86" font-size="33.4" text-anchor="end" fill="#000" >0.2</text>
<line x1="718" y1="197.9" x2="724" y2="197.9" stroke="#1c1c1c" stroke-width="1.7" />
<line x1="713" y1="132.94" x2="724" y2="132.94" stroke="#1c1c1c" stroke-width="1.7" />
<text x="707.6" y="141.94" font-size="33.4" text-anchor="end" fill="#000" >0.3</text>
<line x1="718" y1="67.98" x2="724" y2="67.98" stroke="#1c1c1c" stroke-width="1.7" />
<line x1="724" y1="522.7" x2="724" y2="528.7" stroke="#1c1c1c" stroke-width="1.7" />
<line x1="775.89" y1="522.7" x2="775.89" y2="533.7" stroke="#1c1c1c" stroke-width="1.7" />
<text x="775.89" y="576.9" font-size="33.4" text-anchor="middle" fill="#000" >0.2</text>
<line x1="827.79" y1="522.7" x2="827.79" y2="528.7" stroke="#1c1c1c" stroke-width="1.7" />
<line x1="879.68" y1="522.7" x2="879.68" y2="533.7" stroke="#1c1c1c" stroke-width="1.7" />
<text x="879.68" y="576.9" font-size="33.4" text-anchor="middle" fill="#000" >0.4</text>
<line x1="931.58" y1="522.7" x2="931.58" y2="528.7" stroke="#1c1c1c" stroke-width="1.7" />
<line x1="983.47" y1="522.7" x2="983.47" y2="533.7" stroke="#1c1c1c" stroke-width="1.7" />
<text x="983.47" y="576.9" font-size="33.4" text-anchor="middle" fill="#000" >0.6</text>
<line x1="1035.37" y1="522.7" x2="1035.37" y2="528.7" stroke="#1c1c1c" stroke-width="1.7" />
<line x1="1087.26" y1="522.7" x2="1087.26" y2="533.7" stroke="#1c1c1c" stroke-width="1.7" />
<text x="1087.26" y="576.9" font-size="33.4" text-anchor="middle" fill="#000" >0.8</text>
<line x1="1139.16" y1="522.7" x2="1139.16" y2="528.7" stroke="#1c1c1c" stroke-width="1.7" />
<line x1="1191.05" y1="522.7" x2="1191.05" y2="533.7" stroke="#1c1c1c" stroke-width="1.7" />
<text x="1191.05" y="576.9" font-size="33.4" text-anchor="middle" fill="#000" >1.0</text>
<text x="981.7" y="614.5" font-size="33.4" text-anchor="middle" fill="#000" >Potential (V vs. RHE)</text>
<text x="643.3" y="282.8" font-size="33.4" text-anchor="middle" fill="#000" transform="rotate(-90 643.3 282.8)" ><tspan font-style="italic" dy="0">j</tspan><tspan font-size="20.71" dy="13.03" dx="11.5">ECSA</tspan><tspan dy="-13.03" dx="3">(mA cm</tspan><tspan font-size="20.04" dy="-12.02">-2</tspan><tspan dy="12.02">)</tspan></text>
<text x="656.3" y="56" font-size="37.6" text-anchor="start" fill="#000" font-weight="bold" >B</text>
<line x1="734.4" y1="54.8" x2="798.8" y2="54.8" stroke="#f0383a" stroke-width="1.6" />
<text x="822.6" y="63.3" font-size="33.4" text-anchor="start" fill="#000" >PtZn-ZnO<tspan font-size="20.04" dy="10.69">x</tspan></text>
<line x1="734.4" y1="96.2" x2="798.8" y2="96.2" stroke="#0d48a1" stroke-width="1.6" />
<text x="822.6" y="104.5" font-size="33.4" text-anchor="start" fill="#000" >PtZn-ZnO<tspan font-size="20.04" dy="10.69">x</tspan><tspan dy="-10.69">(etched)</tspan></text>
<line x1="734.4" y1="137.6" x2="798.8" y2="137.6" stroke="#4a4a4a" stroke-width="1.6" />
<text x="822.6" y="145.7" font-size="33.4" text-anchor="start" fill="#000" >Pt/C</text>
<line x1="771.6" y1="430.7" x2="771.6" y2="496.5" stroke="#3a3a3a" stroke-width="1.7" />
<line x1="847" y1="430.7" x2="847" y2="499.5" stroke="#3a3a3a" stroke-width="1.7" />
<line x1="771.6" y1="451.2" x2="822" y2="451.2" stroke="#3a3a3a" stroke-width="1.7" />
<polygon points="818.5,444.6 845.2,451.2 818.5,457.8" fill="#3a3a3a"/>
<text x="770.5" y="422" font-size="24" text-anchor="start" fill="#000" >160 mV</text>
<polygon points="1650,295.24 1693.24,326.65 1676.72,377.48 1623.28,377.48 1606.76,326.65" fill="none" stroke="#c4c4c4" stroke-width="1.2"/>
<polygon points="1650,249.78 1736.47,312.6 1703.44,414.26 1596.56,414.26 1563.53,312.6" fill="none" stroke="#c4c4c4" stroke-width="1.2"/>
<polygon points="1650,204.32 1779.71,298.56 1730.16,451.03 1569.84,451.03 1520.29,298.56" fill="none" stroke="#c4c4c4" stroke-width="1.2"/>
<polygon points="1650,158.86 1822.94,284.51 1756.88,487.81 1543.12,487.81 1477.06,284.51" fill="none" stroke="#c4c4c4" stroke-width="1.2"/>
<polygon points="1650,113.4 1866.18,270.46 1783.6,524.59 1516.4,524.59 1433.82,270.46" fill="none" stroke="#8c8c8c" stroke-width="1.3"/>
<line x1="1650" y1="340.7" x2="1650" y2="113.4" stroke="#c4c4c4" stroke-width="1.2" />
<line x1="1650" y1="340.7" x2="1866.18" y2="270.46" stroke="#c4c4c4" stroke-width="1.2" />
<line x1="1650" y1="340.7" x2="1783.6" y2="524.59" stroke="#c4c4c4" stroke-width="1.2" />
<line x1="1650" y1="340.7" x2="1516.4" y2="524.59" stroke="#c4c4c4" stroke-width="1.2" />
<line x1="1650" y1="340.7" x2="1433.82" y2="270.46" stroke="#c4c4c4" stroke-width="1.2" />
<polygon points="1650,152.95 1830.29,282.12 1763.83,497.37 1517.06,523.67 1435.12,270.88" fill="rgba(255,67,72,0.155)" stroke="#ea4348" stroke-width="2.6" stroke-linejoin="round"/>
<circle cx="1650" cy="152.95" r="4.3" fill="#ea4348" clip-path="url(#clipG)"/>
<circle cx="1649" cy="151.75" r="2.0" fill="#fff" fill-opacity="0.7" clip-path="url(#clipG)"/>
<circle cx="1830.29" cy="282.12" r="4.3" fill="#ea4348" clip-path="url(#clipG)"/>
<circle cx="1829.29" cy="280.92" r="2.0" fill="#fff" fill-opacity="0.7" clip-path="url(#clipG)"/>
<circle cx="1763.83" cy="497.37" r="4.3" fill="#ea4348" clip-path="url(#clipG)"/>
<circle cx="1762.83" cy="496.17" r="2.0" fill="#fff" fill-opacity="0.7" clip-path="url(#clipG)"/>
<circle cx="1517.06" cy="523.67" r="4.3" fill="#ea4348" clip-path="url(#clipG)"/>
<circle cx="1516.06" cy="522.47" r="2.0" fill="#fff" fill-opacity="0.7" clip-path="url(#clipG)"/>
<circle cx="1435.12" cy="270.88" r="4.3" fill="#ea4348" clip-path="url(#clipG)"/>
<circle cx="1434.12" cy="269.68" r="2.0" fill="#fff" fill-opacity="0.7" clip-path="url(#clipG)"/>
<polygon points="1650,225.91 1779.92,298.49 1755.55,485.97 1529.36,506.75 1449.82,275.66" fill="rgba(175,211,254,0.40)" stroke="#2a6fdb" stroke-width="2.6" stroke-linejoin="round"/>
<circle cx="1650" cy="225.91" r="4.3" fill="#2a6fdb" clip-path="url(#clipG)"/>
<circle cx="1649" cy="224.71" r="2.0" fill="#fff" fill-opacity="0.7" clip-path="url(#clipG)"/>
<circle cx="1779.92" cy="298.49" r="4.3" fill="#2a6fdb" clip-path="url(#clipG)"/>
<circle cx="1778.92" cy="297.29" r="2.0" fill="#fff" fill-opacity="0.7" clip-path="url(#clipG)"/>
<circle cx="1755.55" cy="485.97" r="4.3" fill="#2a6fdb" clip-path="url(#clipG)"/>
<circle cx="1754.55" cy="484.77" r="2.0" fill="#fff" fill-opacity="0.7" clip-path="url(#clipG)"/>
<circle cx="1529.36" cy="506.75" r="4.3" fill="#2a6fdb" clip-path="url(#clipG)"/>
<circle cx="1528.36" cy="505.55" r="2.0" fill="#fff" fill-opacity="0.7" clip-path="url(#clipG)"/>
<circle cx="1449.82" cy="275.66" r="4.3" fill="#2a6fdb" clip-path="url(#clipG)"/>
<circle cx="1448.82" cy="274.46" r="2.0" fill="#fff" fill-opacity="0.7" clip-path="url(#clipG)"/>
<polygon points="1650,225.91 1753.76,306.99 1711.86,425.84 1558.62,466.48 1535.21,303.4" fill="rgba(193,242,210,0.40)" stroke="#37a85a" stroke-width="2.6" stroke-linejoin="round"/>
<circle cx="1650" cy="225.91" r="4.3" fill="#37a85a" clip-path="url(#clipG)"/>
<circle cx="1649" cy="224.71" r="2.0" fill="#fff" fill-opacity="0.7" clip-path="url(#clipG)"/>
<circle cx="1753.76" cy="306.99" r="4.3" fill="#37a85a" clip-path="url(#clipG)"/>
<circle cx="1752.76" cy="305.79" r="2.0" fill="#fff" fill-opacity="0.7" clip-path="url(#clipG)"/>
<circle cx="1711.86" cy="425.84" r="4.3" fill="#37a85a" clip-path="url(#clipG)"/>
<circle cx="1710.86" cy="424.64" r="2.0" fill="#fff" fill-opacity="0.7" clip-path="url(#clipG)"/>
<circle cx="1558.62" cy="466.48" r="4.3" fill="#37a85a" clip-path="url(#clipG)"/>
<circle cx="1557.62" cy="465.28" r="2.0" fill="#fff" fill-opacity="0.7" clip-path="url(#clipG)"/>
<circle cx="1535.21" cy="303.4" r="4.3" fill="#37a85a" clip-path="url(#clipG)"/>
<circle cx="1534.21" cy="302.2" r="2.0" fill="#fff" fill-opacity="0.7" clip-path="url(#clipG)"/>
<text x="1318.5" y="55.5" font-size="37.6" text-anchor="start" fill="#000" font-weight="bold" >G</text>
<text x="1643" y="56" font-size="33.4" text-anchor="middle" fill="#000" >E<tspan font-size="19.37" dy="10.69">Onset</tspan></text>
<text x="1648.6" y="96.4" font-size="33.4" text-anchor="middle" fill="#000" >(V vs. RHE)</text>
<text x="1656.8" y="123" font-size="24.5" text-anchor="start" fill="#000" >0.1</text>
<text x="1656.8" y="170.8" font-size="24.5" text-anchor="start" fill="#000" >0.2</text>
<text x="1656.8" y="213.5" font-size="24.5" text-anchor="start" fill="#000" >0.3</text>
<text x="1876.5" y="251.2" font-size="33.4" text-anchor="start" fill="#000" ><tspan font-style="italic" dy="0">j</tspan> (mA cm<tspan font-size="20.04" dy="-12.02">-2</tspan><tspan dy="12.02">)</tspan></text>
<text x="1857.4" y="290.2" font-size="24.5" text-anchor="start" fill="#000" >150</text>
<text x="1809.7" y="311.3" font-size="24.5" text-anchor="start" fill="#000" >120</text>
<text x="1766.1" y="327.4" font-size="24.5" text-anchor="start" fill="#000" >90</text>
<text x="1342.3" y="208.9" font-size="33.4" text-anchor="middle" fill="#000" >FE of</text>
<text x="1342.3" y="248" font-size="33.4" text-anchor="middle" fill="#000" >Ph-COOH (%)</text>
<text x="1410.3" y="292.5" font-size="24.5" text-anchor="start" fill="#000" >100</text>
<text x="1461.7" y="310" font-size="24.5" text-anchor="start" fill="#000" >80</text>
<text x="1503" y="326" font-size="24.5" text-anchor="start" fill="#000" >60</text>
<text x="1577.9" y="459.1" font-size="24.5" text-anchor="start" fill="#000" >60</text>
<text x="1549" y="496.8" font-size="24.5" text-anchor="start" fill="#000" >80</text>
<text x="1522.8" y="534" font-size="24.5" text-anchor="start" fill="#000" >100</text>
<text x="1694.5" y="459.1" font-size="24.5" text-anchor="start" fill="#000" >60</text>
<text x="1716.5" y="496.8" font-size="24.5" text-anchor="start" fill="#000" >80</text>
<text x="1734.9" y="534" font-size="24.5" text-anchor="start" fill="#000" >100</text>
<text x="1453.9" y="563.6" font-size="33.4" text-anchor="middle" fill="#000" >Selectivity of</text>
<text x="1459.4" y="602" font-size="33.4" text-anchor="middle" fill="#000" >Ph-COOH (%)</text>
<text x="1877.6" y="564.8" font-size="33.4" text-anchor="middle" fill="#000" >Conversion</text>
<text x="1882.7" y="604.6" font-size="33.4" text-anchor="middle" fill="#000" >of Ph-CH<tspan font-size="20.04" dy="10.69">2</tspan><tspan dy="-10.69">OH (%)</tspan></text>
<rect x="1767.5" y="54.2" width="31.7" height="30.5" fill="#fbdcdc" stroke="#9a9a9a" stroke-width="1.2" />
<text x="1807.4" y="79" font-size="33.3" text-anchor="start" fill="#000" >PtZn-ZnO<tspan font-size="19.98" dy="10.66">x</tspan></text>
<rect x="1767.5" y="90.4" width="31.7" height="30.5" fill="#dce8fa" stroke="#9a9a9a" stroke-width="1.2" />
<text x="1807.4" y="118" font-size="33.3" text-anchor="start" fill="#000" >PtZn-ZnO<tspan font-size="19.98" dy="10.66">x</tspan><tspan dy="-10.66">(etched)</tspan></text>
<rect x="1767.5" y="125.3" width="31.7" height="30.5" fill="#dff3e6" stroke="#9a9a9a" stroke-width="1.2" />
<text x="1807.4" y="156" font-size="33.3" text-anchor="start" fill="#000" >Pt/C</text>
<rect x="170.2" y="968.4" width="41.8" height="273.4" fill="url(#gr)" stroke="none" stroke-width="0" />
<rect x="301" y="840.8" width="41.6" height="401" fill="url(#gr)" stroke="none" stroke-width="0" />
<rect x="432" y="818.8" width="42" height="423" fill="url(#gr)" stroke="none" stroke-width="0" />
<rect x="222.5" y="1239.3" width="42.5" height="2.5" fill="url(#gb)" stroke="none" stroke-width="0" />
<rect x="353.3" y="1179" width="42.2" height="62.8" fill="url(#gb)" stroke="none" stroke-width="0" />
<rect x="484.4" y="1145.5" width="41.7" height="96.3" fill="url(#gb)" stroke="none" stroke-width="0" />
<path d="M191.1 976.4L196.6 972.57L203.2 967.79L210.8 962.18L219.28 955.87L228.52 948.98L238.42 941.63L248.85 933.95L259.71 926.06L270.87 918.09L282.22 910.16L293.66 902.4L305.06 894.93L316.3 887.87L327.29 881.34L337.89 875.48L348 870.4L358.12 865.92L368.74 861.75L379.74 857.88L391.02 854.29L402.46 850.98L413.94 847.91L425.34 845.08L436.56 842.48L447.46 840.08L457.95 837.87L467.89 835.84L477.19 833.97L485.71 832.25L493.35 830.65L499.98 829.18L505.5 827.8" fill="none" stroke="#4a4a4a" stroke-width="2.0"/>
<path d="M191.1 1217.2L196.6 1214.87L203.2 1212.15L210.8 1209.05L219.28 1205.62L228.52 1201.89L238.42 1197.88L248.85 1193.62L259.71 1189.16L270.87 1184.51L282.22 1179.7L293.66 1174.78L305.06 1169.76L316.3 1164.68L327.29 1159.58L337.89 1154.47L348 1149.4L358.12 1144.08L368.74 1138.29L379.74 1132.1L391.02 1125.6L402.46 1118.89L413.94 1112.04L425.34 1105.15L436.56 1098.31L447.46 1091.6L457.95 1085.11L467.89 1078.93L477.19 1073.14L485.71 1067.84L493.35 1063.11L499.98 1059.03L505.5 1055.7" fill="none" stroke="#4a4a4a" stroke-width="2.0"/>
<circle cx="191.1" cy="976.4" r="8.6" fill="url(#sph)"/>
<circle cx="348" cy="870.4" r="8.6" fill="url(#sph)"/>
<circle cx="505.5" cy="827.8" r="8.6" fill="url(#sphk)"/>
<rect x="183.9" y="1210" width="14.4" height="14.4" fill="#4d4d4d" stroke="#4d4d4d" stroke-width="0.5" />
<rect x="340.8" y="1142.2" width="14.4" height="14.4" fill="#4d4d4d" stroke="#4d4d4d" stroke-width="0.5" />
<rect x="498.3" y="1048.5" width="14.4" height="14.4" fill="#4d4d4d" stroke="#4d4d4d" stroke-width="0.5" />
<rect x="152.2" y="733.5" width="392.9" height="508.3" fill="none" stroke="#000" stroke-width="2" />
<line x1="141.2" y1="1241.8" x2="152.2" y2="1241.8" stroke="#000" stroke-width="2" />
<text x="135.2" y="1251.8" font-size="33.4" text-anchor="end" fill="#000" >0</text>
<line x1="146.2" y1="1190.75" x2="152.2" y2="1190.75" stroke="#000" stroke-width="2" />
<line x1="141.2" y1="1139.7" x2="152.2" y2="1139.7" stroke="#000" stroke-width="2" />
<text x="135.2" y="1149.7" font-size="33.4" text-anchor="end" fill="#000" >0.4</text>
<line x1="146.2" y1="1088.65" x2="152.2" y2="1088.65" stroke="#000" stroke-width="2" />
<line x1="141.2" y1="1037.6" x2="152.2" y2="1037.6" stroke="#000" stroke-width="2" />
<text x="135.2" y="1047.6" font-size="33.4" text-anchor="end" fill="#000" >0.8</text>
<line x1="146.2" y1="986.55" x2="152.2" y2="986.55" stroke="#000" stroke-width="2" />
<line x1="141.2" y1="935.5" x2="152.2" y2="935.5" stroke="#000" stroke-width="2" />
<text x="135.2" y="945.5" font-size="33.4" text-anchor="end" fill="#000" >1.2</text>
<line x1="146.2" y1="884.45" x2="152.2" y2="884.45" stroke="#000" stroke-width="2" />
<line x1="141.2" y1="833.4" x2="152.2" y2="833.4" stroke="#000" stroke-width="2" />
<text x="135.2" y="843.4" font-size="33.4" text-anchor="end" fill="#000" >1.6</text>
<line x1="146.2" y1="782.35" x2="152.2" y2="782.35" stroke="#000" stroke-width="2" />
<line x1="545.1" y1="1241.8" x2="551.1" y2="1241.8" stroke="#000" stroke-width="2" />
<line x1="545.1" y1="1163.6" x2="556.1" y2="1163.6" stroke="#000" stroke-width="2" />
<text x="561.5" y="1174.6" font-size="33.4" text-anchor="start" fill="#000" >2</text>
<line x1="545.1" y1="1085.4" x2="551.1" y2="1085.4" stroke="#000" stroke-width="2" />
<line x1="545.1" y1="1007.2" x2="556.1" y2="1007.2" stroke="#000" stroke-width="2" />
<text x="561.5" y="1018.2" font-size="33.4" text-anchor="start" fill="#000" >4</text>
<line x1="545.1" y1="929" x2="551.1" y2="929" stroke="#000" stroke-width="2" />
<line x1="545.1" y1="850.8" x2="556.1" y2="850.8" stroke="#000" stroke-width="2" />
<text x="561.5" y="861.8" font-size="33.4" text-anchor="start" fill="#000" >6</text>
<line x1="545.1" y1="772.6" x2="551.1" y2="772.6" stroke="#000" stroke-width="2" />
<text x="212.2" y="1277.3" font-size="33.4" text-anchor="middle" fill="#000" >0.625</text>
<text x="346.5" y="1277.3" font-size="33.4" text-anchor="middle" fill="#000" >0.725</text>
<text x="479.9" y="1277.3" font-size="33.4" text-anchor="middle" fill="#000" >0.825</text>
<text x="347" y="1333" font-size="33.4" text-anchor="middle" fill="#000" >Potential (V vs. RHE)</text>
<text x="38" y="989.5" font-size="33.4" text-anchor="middle" fill="#000" transform="rotate(-90 38 989.5)" >Ph-COOH formation rate</text>
<text x="78.8" y="989" font-size="33.4" text-anchor="middle" fill="#000" transform="rotate(-90 78.8 989)" >(*10<tspan font-size="20.04" dy="-12.02">-2</tspan><tspan dy="12.02"> mmol/h)</tspan></text>
<text x="608" y="983.5" font-size="33.4" text-anchor="middle" fill="#000" transform="rotate(-90 608 983.5)" >Charge consumption rate (Q/h)</text>
<text x="0" y="729.5" font-size="37.6" text-anchor="start" fill="#000" font-weight="bold" >C</text>
<line x1="178" y1="850.2" x2="317.3" y2="850.2" stroke="#000" stroke-width="2" />
<polygon points="164,850.2 195,842.4 195,858" fill="#000"/>
<rect x="176" y="743.2" width="28.9" height="28.8" fill="url(#gr)" stroke="none" stroke-width="0" />
<rect x="176" y="785.4" width="28.9" height="28.8" fill="url(#gb)" stroke="none" stroke-width="0" />
<line x1="213.4" y1="758.6" x2="277.6" y2="758.6" stroke="#4a4a4a" stroke-width="2.0" />
<circle cx="245.3" cy="758.6" r="8.6" fill="url(#sph)"/>
<line x1="213.4" y1="802.6" x2="277.6" y2="802.6" stroke="#4a4a4a" stroke-width="2.0" />
<rect x="238.1" y="795.4" width="14.4" height="14.4" fill="#4d4d4d" stroke="#4d4d4d" stroke-width="0.5" />
<text x="292" y="768.3" font-size="33.4" text-anchor="start" fill="#000" >PtZn-ZnO<tspan font-size="20.04" dy="10.69">x</tspan></text>
<text x="290" y="812.7" font-size="33.4" text-anchor="start" fill="#000" >Pt/C</text>
<rect x="791.6" y="849.5" width="41.8" height="392.3" fill="url(#gr)" stroke="none" stroke-width="0" />
<rect x="921" y="835" width="41.6" height="406.8" fill="url(#gr)" stroke="none" stroke-width="0" />
<rect x="1053.5" y="839.7" width="41.8" height="402.1" fill="url(#gr)" stroke="none" stroke-width="0" />
<rect x="843.2" y="1237.2" width="41.8" height="4.6" fill="url(#gb)" stroke="none" stroke-width="0" />
<rect x="972" y="958.7" width="41.8" height="283.1" fill="url(#gb)" stroke="none" stroke-width="0" />
<rect x="1105" y="899.6" width="42" height="342.2" fill="url(#gb)" stroke="none" stroke-width="0" />
<rect x="770.9" y="734" width="391.5" height="507.8" fill="none" stroke="#000" stroke-width="2" />
<line x1="755.4" y1="1232.4" x2="770.9" y2="1232.4" stroke="#000" stroke-width="2" />
<text x="752" y="1244.4" font-size="33.4" text-anchor="end" fill="#000" >0</text>
<line x1="762.9" y1="1182.5" x2="770.9" y2="1182.5" stroke="#000" stroke-width="2" />
<line x1="755.4" y1="1132.6" x2="770.9" y2="1132.6" stroke="#000" stroke-width="2" />
<text x="752" y="1144.6" font-size="33.4" text-anchor="end" fill="#000" >25</text>
<line x1="762.9" y1="1082.7" x2="770.9" y2="1082.7" stroke="#000" stroke-width="2" />
<line x1="755.4" y1="1032.8" x2="770.9" y2="1032.8" stroke="#000" stroke-width="2" />
<text x="752" y="1044.8" font-size="33.4" text-anchor="end" fill="#000" >50</text>
<line x1="762.9" y1="982.9" x2="770.9" y2="982.9" stroke="#000" stroke-width="2" />
<line x1="755.4" y1="933" x2="770.9" y2="933" stroke="#000" stroke-width="2" />
<text x="752" y="945" font-size="33.4" text-anchor="end" fill="#000" >75</text>
<line x1="762.9" y1="883.1" x2="770.9" y2="883.1" stroke="#000" stroke-width="2" />
<line x1="755.4" y1="833.2" x2="770.9" y2="833.2" stroke="#000" stroke-width="2" />
<text x="752" y="845.2" font-size="33.4" text-anchor="end" fill="#000" >100</text>
<line x1="762.9" y1="783.3" x2="770.9" y2="783.3" stroke="#000" stroke-width="2" />
<line x1="770.9" y1="1241.8" x2="770.9" y2="1247.8" stroke="#000" stroke-width="2" />
<text x="838" y="1282" font-size="33.4" text-anchor="middle" fill="#000" >0.625</text>
<text x="967.5" y="1282" font-size="33.4" text-anchor="middle" fill="#000" >0.725</text>
<text x="1101.5" y="1282" font-size="33.4" text-anchor="middle" fill="#000" >0.825</text>
<text x="965" y="1333" font-size="33.4" text-anchor="middle" fill="#000" >Potential (V vs. RHE)</text>
<text x="690" y="986.5" font-size="34.3" text-anchor="middle" fill="#000" transform="rotate(-90 690 986.5)" >Selectivity<tspan font-size="18.35" dy="10.98">Ph-COOH</tspan><tspan dy="-10.98">(%)</tspan></text>
<text x="655.5" y="733" font-size="37.6" text-anchor="start" fill="#000" font-weight="bold" >D</text>
<rect x="805.9" y="740.8" width="34.3" height="34.2" fill="url(#gr)" stroke="none" stroke-width="0" />
<rect x="805.9" y="788.1" width="34.3" height="34.2" fill="url(#gb)" stroke="none" stroke-width="0" />
<text x="856.2" y="770.1" font-size="33.4" text-anchor="start" fill="#000" >PtZn-ZnO<tspan font-size="20.04" dy="10.69">x</tspan></text>
<text x="854.4" y="815.2" font-size="33.4" text-anchor="start" fill="#000" >Pt/C</text>
<rect x="153" y="1420" width="389.1" height="486.7" fill="none" stroke="#000" stroke-width="2" />
<line x1="137" y1="1866.1" x2="153" y2="1866.1" stroke="#000" stroke-width="2" />
<line x1="542.1" y1="1866.1" x2="558.1" y2="1866.1" stroke="#000" stroke-width="2" />
<text x="130.3" y="1874.9" font-size="33.4" text-anchor="end" fill="#000" >0</text>
<text x="569.1" y="1874.7" font-size="33.4" text-anchor="start" fill="#000" >0</text>
<line x1="145" y1="1815.46" x2="153" y2="1815.46" stroke="#000" stroke-width="2" />
<line x1="542.1" y1="1815.46" x2="550.1" y2="1815.46" stroke="#000" stroke-width="2" />
<line x1="137" y1="1764.82" x2="153" y2="1764.82" stroke="#000" stroke-width="2" />
<line x1="542.1" y1="1764.82" x2="558.1" y2="1764.82" stroke="#000" stroke-width="2" />
<text x="132.7" y="1773.62" font-size="33.4" text-anchor="end" fill="#000" >25</text>
<text x="569.1" y="1773.42" font-size="33.4" text-anchor="start" fill="#000" >25</text>
<line x1="145" y1="1714.19" x2="153" y2="1714.19" stroke="#000" stroke-width="2" />
<line x1="542.1" y1="1714.19" x2="550.1" y2="1714.19" stroke="#000" stroke-width="2" />
<line x1="137" y1="1663.55" x2="153" y2="1663.55" stroke="#000" stroke-width="2" />
<line x1="542.1" y1="1663.55" x2="558.1" y2="1663.55" stroke="#000" stroke-width="2" />
<text x="132.7" y="1672.35" font-size="33.4" text-anchor="end" fill="#000" >50</text>
<text x="569.1" y="1672.15" font-size="33.4" text-anchor="start" fill="#000" >50</text>
<line x1="145" y1="1612.91" x2="153" y2="1612.91" stroke="#000" stroke-width="2" />
<line x1="542.1" y1="1612.91" x2="550.1" y2="1612.91" stroke="#000" stroke-width="2" />
<line x1="137" y1="1562.28" x2="153" y2="1562.28" stroke="#000" stroke-width="2" />
<line x1="542.1" y1="1562.28" x2="558.1" y2="1562.28" stroke="#000" stroke-width="2" />
<text x="132.7" y="1571.08" font-size="33.4" text-anchor="end" fill="#000" >75</text>
<text x="569.1" y="1570.88" font-size="33.4" text-anchor="start" fill="#000" >75</text>
<line x1="145" y1="1511.64" x2="153" y2="1511.64" stroke="#000" stroke-width="2" />
<line x1="542.1" y1="1511.64" x2="550.1" y2="1511.64" stroke="#000" stroke-width="2" />
<line x1="137" y1="1461" x2="153" y2="1461" stroke="#000" stroke-width="2" />
<line x1="542.1" y1="1461" x2="558.1" y2="1461" stroke="#000" stroke-width="2" />
<text x="132.7" y="1469.8" font-size="33.4" text-anchor="end" fill="#000" >100</text>
<text x="569.1" y="1469.6" font-size="33.4" text-anchor="start" fill="#000" >100</text>
<line x1="191.65" y1="1906.7" x2="191.65" y2="1922.7" stroke="#000" stroke-width="2" />
<text x="193.15" y="1954.6" font-size="33.4" text-anchor="middle" fill="#000" >1</text>
<line x1="269.5" y1="1906.7" x2="269.5" y2="1922.7" stroke="#000" stroke-width="2" />
<text x="271" y="1954.6" font-size="33.4" text-anchor="middle" fill="#000" >2</text>
<line x1="347.35" y1="1906.7" x2="347.35" y2="1922.7" stroke="#000" stroke-width="2" />
<text x="348.85" y="1954.6" font-size="33.4" text-anchor="middle" fill="#000" >3</text>
<line x1="425.2" y1="1906.7" x2="425.2" y2="1922.7" stroke="#000" stroke-width="2" />
<text x="426.7" y="1954.6" font-size="33.4" text-anchor="middle" fill="#000" >4</text>
<line x1="503.05" y1="1906.7" x2="503.05" y2="1922.7" stroke="#000" stroke-width="2" />
<text x="504.55" y="1954.6" font-size="33.4" text-anchor="middle" fill="#000" >5</text>
<path d="M191.65 1463L194.38 1463.69L197.66 1464.56L201.43 1465.61L205.64 1466.79L210.23 1468.07L215.14 1469.44L220.32 1470.87L225.71 1472.32L231.25 1473.77L236.89 1475.19L242.56 1476.56L248.21 1477.84L253.79 1479.02L259.24 1480.05L264.49 1480.92L269.5 1481.6L274.37 1482.08L279.23 1482.41L284.1 1482.59L288.96 1482.65L293.83 1482.62L298.69 1482.5L303.56 1482.32L308.43 1482.1L313.29 1481.86L318.16 1481.62L323.02 1481.4L327.89 1481.22L332.75 1481.1L337.62 1481.06L342.48 1481.12L347.35 1481.3L352.22 1481.53L357.08 1481.72L361.95 1481.9L366.81 1482.08L371.68 1482.27L376.54 1482.49L381.41 1482.75L386.28 1483.07L391.14 1483.46L396.01 1483.94L400.87 1484.53L405.74 1485.23L410.6 1486.06L415.47 1487.04L420.33 1488.18L425.2 1489.5L430.21 1491.09L435.46 1493L440.91 1495.18L446.49 1497.59L452.14 1500.18L457.81 1502.89L463.45 1505.69L468.99 1508.51L474.38 1511.32L479.56 1514.07L484.47 1516.7L489.06 1519.18L493.27 1521.44L497.04 1523.45L500.32 1525.15L503.05 1526.5" fill="none" stroke="#ee3f42" stroke-width="2"/>
<path d="M191.65 1520.2L194.38 1520.6L197.66 1521.07L201.43 1521.61L205.64 1522.21L210.23 1522.86L215.14 1523.56L220.32 1524.3L225.71 1525.07L231.25 1525.87L236.89 1526.69L242.56 1527.53L248.21 1528.37L253.79 1529.22L259.24 1530.06L264.49 1530.89L269.5 1531.7L274.37 1532.48L279.23 1533.24L284.1 1533.97L288.96 1534.7L293.83 1535.42L298.69 1536.16L303.56 1536.9L308.43 1537.67L313.29 1538.48L318.16 1539.33L323.02 1540.23L327.89 1541.19L332.75 1542.22L337.62 1543.32L342.48 1544.51L347.35 1545.8L352.22 1547.27L357.08 1548.99L361.95 1550.91L366.81 1552.99L371.68 1555.18L376.54 1557.45L381.41 1559.74L386.28 1562.02L391.14 1564.24L396.01 1566.36L400.87 1568.33L405.74 1570.11L410.6 1571.66L415.47 1572.94L420.33 1573.9L425.2 1574.5L430.21 1574.71L435.46 1574.55L440.91 1574.07L446.49 1573.31L452.14 1572.32L457.81 1571.14L463.45 1569.82L468.99 1568.39L474.38 1566.91L479.56 1565.42L484.47 1563.96L489.06 1562.58L493.27 1561.32L497.04 1560.22L500.32 1559.34L503.05 1558.7" fill="none" stroke="#333333" stroke-width="2"/>
<path d="M191.65 1864L194.38 1863.32L197.66 1862.45L201.43 1861.42L205.64 1860.25L210.23 1858.98L215.14 1857.62L220.32 1856.21L225.71 1854.77L231.25 1853.34L236.89 1851.92L242.56 1850.57L248.21 1849.29L253.79 1848.11L259.24 1847.07L264.49 1846.19L269.5 1845.5L274.37 1844.99L279.23 1844.64L284.1 1844.42L288.96 1844.31L293.83 1844.31L298.69 1844.38L303.56 1844.5L308.43 1844.67L313.29 1844.85L318.16 1845.04L323.02 1845.21L327.89 1845.34L332.75 1845.41L337.62 1845.41L342.48 1845.31L347.35 1845.1L352.22 1844.85L357.08 1844.62L361.95 1844.42L366.81 1844.22L371.68 1844.01L376.54 1843.77L381.41 1843.49L386.28 1843.16L391.14 1842.75L396.01 1842.26L400.87 1841.67L405.74 1840.96L410.6 1840.13L415.47 1839.15L420.33 1838.01L425.2 1836.7L430.21 1835.12L435.46 1833.23L440.91 1831.07L446.49 1828.7L452.14 1826.14L457.81 1823.47L463.45 1820.71L468.99 1817.92L474.38 1815.16L479.56 1812.45L484.47 1809.85L489.06 1807.42L493.27 1805.19L497.04 1803.21L500.32 1801.53L503.05 1800.2" fill="none" stroke="#1f6fe0" stroke-width="2"/>
<polygon points="191.65,1449.8 203.25,1469.9 180.05,1469.9" fill="#fff" stroke="#ee3f42" stroke-width="2" stroke-linejoin="miter"/>
<polygon points="191.65,1449.8 203.25,1469.9 191.65,1469.9" fill="#ee3f42" stroke="#ee3f42" stroke-width="1"/>
<polygon points="269.5,1468.4 281.1,1488.5 257.9,1488.5" fill="#fff" stroke="#ee3f42" stroke-width="2" stroke-linejoin="miter"/>
<polygon points="269.5,1468.4 281.1,1488.5 269.5,1488.5" fill="#ee3f42" stroke="#ee3f42" stroke-width="1"/>
<polygon points="347.35,1468.1 358.95,1488.2 335.75,1488.2" fill="#fff" stroke="#ee3f42" stroke-width="2" stroke-linejoin="miter"/>
<polygon points="347.35,1468.1 358.95,1488.2 347.35,1488.2" fill="#ee3f42" stroke="#ee3f42" stroke-width="1"/>
<polygon points="425.2,1476.3 436.8,1496.4 413.6,1496.4" fill="#fff" stroke="#ee3f42" stroke-width="2" stroke-linejoin="miter"/>
<polygon points="425.2,1476.3 436.8,1496.4 425.2,1496.4" fill="#ee3f42" stroke="#ee3f42" stroke-width="1"/>
<polygon points="503.05,1513.3 514.65,1533.4 491.45,1533.4" fill="#fff" stroke="#ee3f42" stroke-width="2" stroke-linejoin="miter"/>
<polygon points="503.05,1513.3 514.65,1533.4 503.05,1533.4" fill="#ee3f42" stroke="#ee3f42" stroke-width="1"/>
<rect x="182.85" y="1511.4" width="17.6" height="17.6" fill="#fff" stroke="#333333" stroke-width="2" />
<rect x="191.65" y="1511.4" width="8.8" height="17.6" fill="#333333" stroke="#333333" stroke-width="1" />
<rect x="260.7" y="1522.9" width="17.6" height="17.6" fill="#fff" stroke="#333333" stroke-width="2" />
<rect x="269.5" y="1522.9" width="8.8" height="17.6" fill="#333333" stroke="#333333" stroke-width="1" />
<rect x="338.55" y="1537" width="17.6" height="17.6" fill="#fff" stroke="#333333" stroke-width="2" />
<rect x="347.35" y="1537" width="8.8" height="17.6" fill="#333333" stroke="#333333" stroke-width="1" />
<rect x="416.4" y="1565.7" width="17.6" height="17.6" fill="#fff" stroke="#333333" stroke-width="2" />
<rect x="425.2" y="1565.7" width="8.8" height="17.6" fill="#333333" stroke="#333333" stroke-width="1" />
<rect x="494.25" y="1549.9" width="17.6" height="17.6" fill="#fff" stroke="#333333" stroke-width="2" />
<rect x="503.05" y="1549.9" width="8.8" height="17.6" fill="#333333" stroke="#333333" stroke-width="1" />
<circle cx="191.65" cy="1864" r="9.8" fill="#fff" stroke="#1f6fe0" stroke-width="2"/>
<path d="M191.65 1854.2 A9.8 9.8 0 0 0 191.65 1873.8 Z" fill="#1f6fe0" stroke="#1f6fe0" stroke-width="1"/>
<circle cx="269.5" cy="1845.5" r="9.8" fill="#fff" stroke="#1f6fe0" stroke-width="2"/>
<path d="M269.5 1835.7 A9.8 9.8 0 0 0 269.5 1855.3 Z" fill="#1f6fe0" stroke="#1f6fe0" stroke-width="1"/>
<circle cx="347.35" cy="1845.1" r="9.8" fill="#fff" stroke="#1f6fe0" stroke-width="2"/>
<path d="M347.35 1835.3 A9.8 9.8 0 0 0 347.35 1854.9 Z" fill="#1f6fe0" stroke="#1f6fe0" stroke-width="1"/>
<circle cx="425.2" cy="1836.7" r="9.8" fill="#fff" stroke="#1f6fe0" stroke-width="2"/>
<path d="M425.2 1826.9 A9.8 9.8 0 0 0 425.2 1846.5 Z" fill="#1f6fe0" stroke="#1f6fe0" stroke-width="1"/>
<circle cx="503.05" cy="1800.2" r="9.8" fill="#fff" stroke="#1f6fe0" stroke-width="2"/>
<path d="M503.05 1790.4 A9.8 9.8 0 0 0 503.05 1810 Z" fill="#1f6fe0" stroke="#1f6fe0" stroke-width="1"/>
<text x="354.5" y="1995" font-size="33.4" text-anchor="middle" fill="#000" >Cycles of BAOR</text>
<text x="77.7" y="1646.4" font-size="33.4" text-anchor="middle" fill="#000" transform="rotate(-90 77.7 1646.4)" >Selectivity (%)</text>
<text x="643" y="1646" font-size="33.4" text-anchor="middle" fill="#000" transform="rotate(-90 643 1646)" >Conversion (%)</text>
<text x="0" y="1391" font-size="37.6" text-anchor="start" fill="#000" font-weight="bold" >E</text>
<text x="359.3" y="1463.4" font-size="33.4" text-anchor="start" fill="#000" >PtZn-ZnO<tspan font-size="20.04" dy="10.69">x</tspan></text>
<path d="M472.5 1575.6 L472.5 1607.1 L527 1607.1" fill="none" stroke="#000" stroke-width="1.8"/>
<path d="M512 1600.5 L528 1607.1 L512 1613.7" fill="none" stroke="#000" stroke-width="1.8"/>
<line x1="171.7" y1="1659" x2="234.5" y2="1659" stroke="#333333" stroke-width="2" />
<line x1="171.7" y1="1700.3" x2="234.5" y2="1700.3" stroke="#1f6fe0" stroke-width="2" />
<line x1="171.7" y1="1743" x2="234.5" y2="1743" stroke="#ee3f42" stroke-width="2" />
<rect x="193.5" y="1650.2" width="17.6" height="17.6" fill="#fff" stroke="#333333" stroke-width="2" />
<rect x="202.3" y="1650.2" width="8.8" height="17.6" fill="#333333" stroke="#333333" stroke-width="1" />
<circle cx="202.3" cy="1700.3" r="9.8" fill="#fff" stroke="#1f6fe0" stroke-width="2"/>
<path d="M202.3 1690.5 A9.8 9.8 0 0 0 202.3 1710.1 Z" fill="#1f6fe0" stroke="#1f6fe0" stroke-width="1"/>
<polygon points="202.3,1730.8 213.9,1750.9 190.7,1750.9" fill="#fff" stroke="#ee3f42" stroke-width="2" stroke-linejoin="miter"/>
<polygon points="202.3,1730.8 213.9,1750.9 202.3,1750.9" fill="#ee3f42" stroke="#ee3f42" stroke-width="1"/>
<text x="244.3" y="1668.4" font-size="33.4" text-anchor="start" fill="#000" >Ph-CH<tspan font-size="20.04" dy="10.69">2</tspan><tspan dy="-10.69">OH</tspan></text>
<text x="244.3" y="1709" font-size="33.4" text-anchor="start" fill="#000" >Ph-CHO</text>
<text x="244.3" y="1751.8" font-size="33.4" text-anchor="start" fill="#000" >Ph-COOH</text>
<rect x="773.2" y="1423.1" width="389.2" height="486.7" fill="none" stroke="#000" stroke-width="2" />
<line x1="757.2" y1="1869.1" x2="773.2" y2="1869.1" stroke="#000" stroke-width="2" />
<line x1="1162.4" y1="1869.1" x2="1178.4" y2="1869.1" stroke="#000" stroke-width="2" />
<text x="750.5" y="1877.9" font-size="33.4" text-anchor="end" fill="#000" >0</text>
<text x="1189.4" y="1877.7" font-size="33.4" text-anchor="start" fill="#000" >0</text>
<line x1="765.2" y1="1818.47" x2="773.2" y2="1818.47" stroke="#000" stroke-width="2" />
<line x1="1162.4" y1="1818.47" x2="1170.4" y2="1818.47" stroke="#000" stroke-width="2" />
<line x1="757.2" y1="1767.85" x2="773.2" y2="1767.85" stroke="#000" stroke-width="2" />
<line x1="1162.4" y1="1767.85" x2="1178.4" y2="1767.85" stroke="#000" stroke-width="2" />
<text x="752.9" y="1776.65" font-size="33.4" text-anchor="end" fill="#000" >25</text>
<text x="1189.4" y="1776.45" font-size="33.4" text-anchor="start" fill="#000" >25</text>
<line x1="765.2" y1="1717.22" x2="773.2" y2="1717.22" stroke="#000" stroke-width="2" />
<line x1="1162.4" y1="1717.22" x2="1170.4" y2="1717.22" stroke="#000" stroke-width="2" />
<line x1="757.2" y1="1666.6" x2="773.2" y2="1666.6" stroke="#000" stroke-width="2" />
<line x1="1162.4" y1="1666.6" x2="1178.4" y2="1666.6" stroke="#000" stroke-width="2" />
<text x="752.9" y="1675.4" font-size="33.4" text-anchor="end" fill="#000" >50</text>
<text x="1189.4" y="1675.2" font-size="33.4" text-anchor="start" fill="#000" >50</text>
<line x1="765.2" y1="1615.97" x2="773.2" y2="1615.97" stroke="#000" stroke-width="2" />
<line x1="1162.4" y1="1615.97" x2="1170.4" y2="1615.97" stroke="#000" stroke-width="2" />
<line x1="757.2" y1="1565.35" x2="773.2" y2="1565.35" stroke="#000" stroke-width="2" />
<line x1="1162.4" y1="1565.35" x2="1178.4" y2="1565.35" stroke="#000" stroke-width="2" />
<text x="752.9" y="1574.15" font-size="33.4" text-anchor="end" fill="#000" >75</text>
<text x="1189.4" y="1573.95" font-size="33.4" text-anchor="start" fill="#000" >75</text>
<line x1="765.2" y1="1514.72" x2="773.2" y2="1514.72" stroke="#000" stroke-width="2" />
<line x1="1162.4" y1="1514.72" x2="1170.4" y2="1514.72" stroke="#000" stroke-width="2" />
<line x1="757.2" y1="1464.1" x2="773.2" y2="1464.1" stroke="#000" stroke-width="2" />
<line x1="1162.4" y1="1464.1" x2="1178.4" y2="1464.1" stroke="#000" stroke-width="2" />
<text x="752.9" y="1472.9" font-size="33.4" text-anchor="end" fill="#000" >100</text>
<text x="1189.4" y="1472.7" font-size="33.4" text-anchor="start" fill="#000" >100</text>
<line x1="811.85" y1="1909.8" x2="811.85" y2="1925.8" stroke="#000" stroke-width="2" />
<text x="813.35" y="1958" font-size="33.4" text-anchor="middle" fill="#000" >1</text>
<line x1="889.7" y1="1909.8" x2="889.7" y2="1925.8" stroke="#000" stroke-width="2" />
<text x="891.2" y="1958" font-size="33.4" text-anchor="middle" fill="#000" >2</text>
<line x1="967.55" y1="1909.8" x2="967.55" y2="1925.8" stroke="#000" stroke-width="2" />
<text x="969.05" y="1958" font-size="33.4" text-anchor="middle" fill="#000" >3</text>
<line x1="1045.4" y1="1909.8" x2="1045.4" y2="1925.8" stroke="#000" stroke-width="2" />
<text x="1046.9" y="1958" font-size="33.4" text-anchor="middle" fill="#000" >4</text>
<line x1="1123.25" y1="1909.8" x2="1123.25" y2="1925.8" stroke="#000" stroke-width="2" />
<text x="1124.75" y="1958" font-size="33.4" text-anchor="middle" fill="#000" >5</text>
<path d="M811.73 1519.48L814.45 1519.78L817.73 1520.17L821.5 1520.65L825.71 1521.19L830.3 1521.78L835.21 1522.41L840.39 1523.06L845.77 1523.71L851.31 1524.35L856.94 1524.96L862.61 1525.53L868.26 1526.05L873.84 1526.48L879.28 1526.83L884.54 1527.07L889.54 1527.19L894.4 1527.19L899.27 1527.09L904.13 1526.9L908.99 1526.63L913.86 1526.29L918.72 1525.9L923.58 1525.46L928.45 1524.98L933.31 1524.48L938.17 1523.97L943.04 1523.45L947.9 1522.95L952.76 1522.46L957.63 1522L962.49 1521.59L967.35 1521.23L972.22 1520.9L977.08 1520.57L981.94 1520.24L986.81 1519.91L991.67 1519.58L996.53 1519.25L1001.4 1518.94L1006.26 1518.63L1011.12 1518.33L1015.99 1518.04L1020.85 1517.77L1025.71 1517.51L1030.58 1517.27L1035.44 1517.05L1040.3 1516.85L1045.17 1516.68L1050.17 1516.53L1055.43 1516.4L1060.87 1516.3L1066.44 1516.21L1072.1 1516.15L1077.77 1516.1L1083.4 1516.07L1088.94 1516.04L1094.32 1516.03L1099.5 1516.02L1104.41 1516.01L1109 1516.01L1113.21 1516.01L1116.98 1516L1120.25 1515.99L1122.98 1515.98" fill="none" stroke="#f5161a" stroke-width="2.4"/>
<path d="M811.73 1560.49L814.45 1560.5L817.73 1560.5L821.5 1560.5L825.71 1560.5L830.3 1560.5L835.21 1560.5L840.39 1560.51L845.77 1560.51L851.31 1560.52L856.94 1560.54L862.61 1560.56L868.26 1560.6L873.84 1560.64L879.28 1560.69L884.54 1560.76L889.54 1560.84L894.4 1560.91L899.27 1560.94L904.13 1560.94L908.99 1560.93L913.86 1560.91L918.72 1560.9L923.58 1560.9L928.45 1560.93L933.31 1560.99L938.17 1561.1L943.04 1561.27L947.9 1561.5L952.76 1561.81L957.63 1562.2L962.49 1562.69L967.35 1563.29L972.28 1564.07L977.31 1565.05L982.41 1566.21L987.58 1567.5L992.78 1568.91L997.98 1570.39L1003.17 1571.91L1008.32 1573.44L1013.4 1574.94L1018.4 1576.38L1023.28 1577.73L1028.03 1578.94L1032.62 1580L1037.02 1580.87L1041.21 1581.5L1045.17 1581.87L1048.9 1581.98L1052.43 1581.87L1055.79 1581.55L1058.98 1581.06L1062.02 1580.43L1064.93 1579.66L1067.72 1578.8L1070.4 1577.86L1073 1576.88L1075.53 1575.86L1078 1574.85L1080.43 1573.86L1082.83 1572.92L1085.22 1572.06L1087.62 1571.3L1090.03 1570.66L1092.48 1570.09L1094.95 1569.53L1097.42 1568.98L1099.88 1568.44L1102.31 1567.92L1104.71 1567.41L1107.04 1566.92L1109.31 1566.45L1111.49 1566L1113.56 1565.58L1115.52 1565.18L1117.34 1564.81L1119.01 1564.47L1120.52 1564.16L1121.85 1563.88L1122.98 1563.65" fill="none" stroke="#4a4a4a" stroke-width="2"/>
<path d="M811.73 1813.21L814.45 1812.92L817.73 1812.54L821.5 1812.08L825.71 1811.55L830.3 1810.97L835.21 1810.35L840.39 1809.72L845.77 1809.09L851.31 1808.47L856.94 1807.88L862.61 1807.33L868.26 1806.85L873.84 1806.44L879.28 1806.13L884.54 1805.93L889.54 1805.85L894.4 1805.9L899.27 1806.06L904.13 1806.32L908.99 1806.67L913.86 1807.09L918.72 1807.58L923.58 1808.11L928.45 1808.67L933.31 1809.26L938.17 1809.85L943.04 1810.44L947.9 1811.01L952.76 1811.55L957.63 1812.05L962.49 1812.49L967.35 1812.86L972.22 1813.18L977.08 1813.48L981.94 1813.78L986.81 1814.05L991.67 1814.32L996.53 1814.57L1001.4 1814.8L1006.26 1815.03L1011.12 1815.24L1015.99 1815.43L1020.85 1815.62L1025.71 1815.79L1030.58 1815.95L1035.44 1816.1L1040.3 1816.24L1045.17 1816.36L1050.17 1816.47L1055.43 1816.56L1060.87 1816.63L1066.44 1816.68L1072.1 1816.72L1077.77 1816.74L1083.4 1816.75L1088.94 1816.76L1094.32 1816.75L1099.5 1816.75L1104.41 1816.73L1109 1816.72L1113.21 1816.71L1116.98 1816.71L1120.25 1816.71L1122.98 1816.71" fill="none" stroke="#1f6fe0" stroke-width="2"/>
<polygon points="811.85,1502.3 823.45,1522.4 800.25,1522.4" fill="#fff" stroke="#ee3f42" stroke-width="2" stroke-linejoin="miter"/>
<polygon points="811.85,1502.3 823.45,1522.4 811.85,1522.4" fill="#ee3f42" stroke="#ee3f42" stroke-width="1"/>
<polygon points="889.7,1540.3 901.3,1560.4 878.1,1560.4" fill="#fff" stroke="#ee3f42" stroke-width="2" stroke-linejoin="miter"/>
<polygon points="889.7,1540.3 901.3,1560.4 889.7,1560.4" fill="#ee3f42" stroke="#ee3f42" stroke-width="1"/>
<polygon points="967.55,1508.3 979.15,1528.4 955.95,1528.4" fill="#fff" stroke="#ee3f42" stroke-width="2" stroke-linejoin="miter"/>
<polygon points="967.55,1508.3 979.15,1528.4 967.55,1528.4" fill="#ee3f42" stroke="#ee3f42" stroke-width="1"/>
<polygon points="1045.4,1487.6 1057,1507.7 1033.8,1507.7" fill="#fff" stroke="#ee3f42" stroke-width="2" stroke-linejoin="miter"/>
<polygon points="1045.4,1487.6 1057,1507.7 1045.4,1507.7" fill="#ee3f42" stroke="#ee3f42" stroke-width="1"/>
<polygon points="1123.25,1490.6 1134.85,1510.7 1111.65,1510.7" fill="#fff" stroke="#ee3f42" stroke-width="2" stroke-linejoin="miter"/>
<polygon points="1123.25,1490.6 1134.85,1510.7 1123.25,1510.7" fill="#ee3f42" stroke="#ee3f42" stroke-width="1"/>
<rect x="803.05" y="1551.7" width="17.6" height="17.6" fill="#fff" stroke="#4a4a4a" stroke-width="2" />
<rect x="811.85" y="1551.7" width="8.8" height="17.6" fill="#4a4a4a" stroke="#4a4a4a" stroke-width="1" />
<rect x="880.9" y="1565.7" width="17.6" height="17.6" fill="#fff" stroke="#4a4a4a" stroke-width="2" />
<rect x="889.7" y="1565.7" width="8.8" height="17.6" fill="#4a4a4a" stroke="#4a4a4a" stroke-width="1" />
<rect x="958.75" y="1545.7" width="17.6" height="17.6" fill="#fff" stroke="#4a4a4a" stroke-width="2" />
<rect x="967.55" y="1545.7" width="8.8" height="17.6" fill="#4a4a4a" stroke="#4a4a4a" stroke-width="1" />
<rect x="1036.6" y="1580.8" width="17.6" height="17.6" fill="#fff" stroke="#4a4a4a" stroke-width="2" />
<rect x="1045.4" y="1580.8" width="8.8" height="17.6" fill="#4a4a4a" stroke="#4a4a4a" stroke-width="1" />
<rect x="1114.45" y="1538" width="17.6" height="17.6" fill="#fff" stroke="#4a4a4a" stroke-width="2" />
<rect x="1123.25" y="1538" width="8.8" height="17.6" fill="#4a4a4a" stroke="#4a4a4a" stroke-width="1" />
<circle cx="811.85" cy="1817.4" r="9.8" fill="#fff" stroke="#1f6fe0" stroke-width="2"/>
<path d="M811.85 1807.6 A9.8 9.8 0 0 0 811.85 1827.2 Z" fill="#1f6fe0" stroke="#1f6fe0" stroke-width="1"/>
<circle cx="889.7" cy="1778.9" r="9.8" fill="#fff" stroke="#1f6fe0" stroke-width="2"/>
<path d="M889.7 1769.1 A9.8 9.8 0 0 0 889.7 1788.7 Z" fill="#1f6fe0" stroke="#1f6fe0" stroke-width="1"/>
<circle cx="967.55" cy="1811.5" r="9.8" fill="#fff" stroke="#1f6fe0" stroke-width="2"/>
<path d="M967.55 1801.7 A9.8 9.8 0 0 0 967.55 1821.3 Z" fill="#1f6fe0" stroke="#1f6fe0" stroke-width="1"/>
<circle cx="1045.4" cy="1832.1" r="9.8" fill="#fff" stroke="#1f6fe0" stroke-width="2"/>
<path d="M1045.4 1822.3 A9.8 9.8 0 0 0 1045.4 1841.9 Z" fill="#1f6fe0" stroke="#1f6fe0" stroke-width="1"/>
<circle cx="1123.25" cy="1829.7" r="9.8" fill="#fff" stroke="#1f6fe0" stroke-width="2"/>
<path d="M1123.25 1819.9 A9.8 9.8 0 0 0 1123.25 1839.5 Z" fill="#1f6fe0" stroke="#1f6fe0" stroke-width="1"/>
<text x="975" y="1998" font-size="33.4" text-anchor="middle" fill="#000" >Cycles of BAOR</text>
<text x="697.7" y="1652" font-size="33.4" text-anchor="middle" fill="#000" transform="rotate(-90 697.7 1652)" >Selectivity (%)</text>
<text x="1265" y="1649" font-size="33.4" text-anchor="middle" fill="#000" transform="rotate(-90 1265 1649)" >Conversion (%)</text>
<text x="656.5" y="1389" font-size="37.6" text-anchor="start" fill="#000" font-weight="bold" >F</text>
<text x="859" y="1464.5" font-size="33.4" text-anchor="start" fill="#000" >PtZn-ZnO<tspan font-size="20.04" dy="10.69">x</tspan><tspan dy="-10.69">(etched)</tspan></text>
<path d="M1090 1575.6 L1090 1607.1 L1145 1607.1" fill="none" stroke="#000" stroke-width="1.8"/>
<path d="M1130 1600.5 L1146 1607.1 L1130 1613.7" fill="none" stroke="#000" stroke-width="1.8"/>
<line x1="794.5" y1="1655" x2="857" y2="1655" stroke="#4a4a4a" stroke-width="2" />
<line x1="794.5" y1="1698.5" x2="857" y2="1698.5" stroke="#1f6fe0" stroke-width="2" />
<line x1="794.5" y1="1741" x2="857" y2="1741" stroke="#ee3f42" stroke-width="2" />
<rect x="816.7" y="1646.2" width="17.6" height="17.6" fill="#fff" stroke="#3c3c3c" stroke-width="2" />
<rect x="825.5" y="1646.2" width="8.8" height="17.6" fill="#3c3c3c" stroke="#3c3c3c" stroke-width="1" />
<circle cx="825.5" cy="1698.5" r="9.8" fill="#fff" stroke="#1f6fe0" stroke-width="2"/>
<path d="M825.5 1688.7 A9.8 9.8 0 0 0 825.5 1708.3 Z" fill="#1f6fe0" stroke="#1f6fe0" stroke-width="1"/>
<polygon points="825.5,1729.3 837.1,1749.4 813.9,1749.4" fill="#fff" stroke="#ee3f42" stroke-width="2" stroke-linejoin="miter"/>
<polygon points="825.5,1729.3 837.1,1749.4 825.5,1749.4" fill="#ee3f42" stroke="#ee3f42" stroke-width="1"/>
<text x="867.5" y="1664.5" font-size="33.4" text-anchor="start" fill="#000" >Ph-CH<tspan font-size="20.04" dy="10.69">2</tspan><tspan dy="-10.69">OH</tspan></text>
<text x="867.5" y="1707.5" font-size="33.4" text-anchor="start" fill="#000" >Ph-CHO</text>
<text x="867.5" y="1750" font-size="33.4" text-anchor="start" fill="#000" >Ph-COOH</text>
<rect x="1577.4" y="767.8" width="53.02" height="30.7" fill="url(#gh)" stroke="#5c5c5c" stroke-width="1.5" />
<text x="1547.8" y="786.85" font-size="33" text-anchor="end" fill="#000" transform="rotate(-29.5 1547.8 786.85)" >PtZn-ZnO<tspan font-size="23.1" dy="8.91">x</tspan></text>
<rect x="1577.4" y="818.94" width="223.25" height="30.7" fill="#cfdff0" stroke="#5c5c5c" stroke-width="1.5" />
<text x="1552.5" y="842.79" font-size="33" text-anchor="end" fill="#000" transform="rotate(-29.5 1552.5 842.79)" >Au/CoOOH</text>
<rect x="1577.4" y="870.08" width="251.15" height="30.7" fill="#cfdff0" stroke="#5c5c5c" stroke-width="1.5" />
<text x="1552.5" y="893.93" font-size="33" text-anchor="end" fill="#000" transform="rotate(-29.5 1552.5 893.93)" >Ru-SA/NSC</text>
<rect x="1577.4" y="921.22" width="362.78" height="30.7" fill="#cfdff0" stroke="#5c5c5c" stroke-width="1.5" />
<text x="1552.5" y="945.07" font-size="33" text-anchor="end" fill="#000" transform="rotate(-29.5 1552.5 945.07)" >A-Ni-Co-H</text>
<rect x="1577.4" y="972.36" width="362.78" height="30.7" fill="#cfdff0" stroke="#5c5c5c" stroke-width="1.5" />
<text x="1552.5" y="996.21" font-size="33" text-anchor="end" fill="#000" transform="rotate(-29.5 1552.5 996.21)" >Ni-OH/NF</text>
<rect x="1577.4" y="1023.5" width="390.68" height="30.7" fill="#cfdff0" stroke="#5c5c5c" stroke-width="1.5" />
<text x="1550.3" y="1041.05" font-size="33" text-anchor="end" fill="#000" transform="rotate(-29.5 1550.3 1041.05)" >h-Ni(OH)<tspan font-size="23.1" dy="8.91">2</tspan></text>
<rect x="1577.4" y="1074.64" width="376.73" height="30.7" fill="#cfdff0" stroke="#5c5c5c" stroke-width="1.5" />
<text x="1552.5" y="1098.49" font-size="33" text-anchor="end" fill="#000" transform="rotate(-29.5 1552.5 1098.49)" >hp-Ni</text>
<rect x="1577.4" y="1125.78" width="466.03" height="30.7" fill="#cfdff0" stroke="#5c5c5c" stroke-width="1.5" />
<text x="1550.3" y="1143.33" font-size="33" text-anchor="end" fill="#000" transform="rotate(-29.5 1550.3 1143.33)" >Co<tspan font-size="23.1" dy="8.91">3</tspan><tspan dy="-8.91">O</tspan><tspan font-size="23.1" dy="8.91">4</tspan></text>
<rect x="1577.4" y="1176.92" width="368.36" height="30.7" fill="#cfdff0" stroke="#5c5c5c" stroke-width="1.5" />
<text x="1552.5" y="1200.77" font-size="33" text-anchor="end" fill="#000" transform="rotate(-29.5 1552.5 1200.77)" >Ni@NC-280</text>
<rect x="1577.4" y="1228.06" width="357.2" height="30.7" fill="#cfdff0" stroke="#5c5c5c" stroke-width="1.5" />
<text x="1552.5" y="1251.91" font-size="33" text-anchor="end" fill="#000" transform="rotate(-29.5 1552.5 1251.91)" >NiCo/AC</text>
<rect x="1577.4" y="1279.2" width="357.2" height="30.7" fill="#cfdff0" stroke="#5c5c5c" stroke-width="1.5" />
<text x="1549.5" y="1296.55" font-size="33" text-anchor="end" fill="#000" transform="rotate(-29.5 1549.5 1296.55)" >Co<tspan font-size="23.1" dy="8.91">0.83</tspan><tspan dy="-8.91">Ni</tspan><tspan font-size="23.1" dy="8.91">0.17</tspan><tspan dy="-8.91">/AC</tspan></text>
<rect x="1577.4" y="1330.34" width="348.83" height="30.7" fill="#cfdff0" stroke="#5c5c5c" stroke-width="1.5" />
<text x="1552.5" y="1354.19" font-size="33" text-anchor="end" fill="#000" transform="rotate(-29.5 1552.5 1354.19)" >PA-NF</text>
<rect x="1577.4" y="1381.48" width="376.73" height="30.7" fill="#cfdff0" stroke="#5c5c5c" stroke-width="1.5" />
<text x="1552.5" y="1405.33" font-size="33" text-anchor="end" fill="#000" transform="rotate(-29.5 1552.5 1405.33)" >Ni–Fe</text>
<rect x="1577.4" y="1432.62" width="354.41" height="30.7" fill="#cfdff0" stroke="#5c5c5c" stroke-width="1.5" />
<text x="1549.5" y="1454.47" font-size="33" text-anchor="end" fill="#000" transform="rotate(-29.5 1549.5 1454.47)" >Ni<tspan font-size="23.1" dy="8.91">2</tspan><tspan dy="-8.91">P/NF</tspan></text>
<rect x="1577.4" y="1483.76" width="376.73" height="30.7" fill="#cfdff0" stroke="#5c5c5c" stroke-width="1.5" />
<text x="1552.5" y="1507.61" font-size="33" text-anchor="end" fill="#000" transform="rotate(-29.5 1552.5 1507.61)" >CoP</text>
<rect x="1577.4" y="1534.9" width="362.78" height="30.7" fill="#cfdff0" stroke="#5c5c5c" stroke-width="1.5" />
<text x="1552.5" y="1558.75" font-size="33" text-anchor="end" fill="#000" transform="rotate(-29.5 1552.5 1558.75)" >N–Mo–Ni/NF</text>
<rect x="1577.4" y="1586.04" width="390.68" height="30.7" fill="#cfdff0" stroke="#5c5c5c" stroke-width="1.5" />
<text x="1550.3" y="1603.59" font-size="33" text-anchor="end" fill="#000" transform="rotate(-29.5 1550.3 1603.59)" >NC@CuCo<tspan font-size="23.1" dy="8.91">2</tspan></text>
<rect x="1577.4" y="1637.18" width="373.94" height="30.7" fill="#cfdff0" stroke="#5c5c5c" stroke-width="1.5" />
<text x="1552.5" y="1661.03" font-size="33" text-anchor="end" fill="#000" transform="rotate(-29.5 1552.5 1661.03)" >NiO</text>
<rect x="1577.4" y="1688.32" width="334.87" height="30.7" fill="#cfdff0" stroke="#5c5c5c" stroke-width="1.5" />
<text x="1552.5" y="1712.17" font-size="33" text-anchor="end" fill="#000" transform="rotate(-29.5 1552.5 1712.17)" >FeCoNiAlMo/CNT</text>
<rect x="1577.4" y="1739.46" width="376.73" height="30.7" fill="#cfdff0" stroke="#5c5c5c" stroke-width="1.5" />
<text x="1552.5" y="1763.31" font-size="33" text-anchor="end" fill="#000" transform="rotate(-29.5 1552.5 1763.31)" >ZIF-9@xGO</text>
<rect x="1577.4" y="1790.6" width="362.78" height="30.7" fill="#cfdff0" stroke="#5c5c5c" stroke-width="1.5" />
<text x="1549.5" y="1808.45" font-size="33" text-anchor="end" fill="#000" transform="rotate(-29.5 1549.5 1808.45)" >NiCo<tspan font-size="23.1" dy="8.91">2</tspan><tspan dy="-8.91">O</tspan><tspan font-size="23.1" dy="8.91">4</tspan><tspan dy="-8.91">/NF</tspan></text>
<rect x="1577.4" y="1841.74" width="320.92" height="30.7" fill="#cfdff0" stroke="#5c5c5c" stroke-width="1.5" />
<text x="1554.3" y="1853.29" font-size="33" text-anchor="end" fill="#000" transform="rotate(-29.5 1554.3 1853.29)" >NiCo(OOH)<tspan font-size="23.1" dy="8.91">x</tspan></text>
<rect x="1577.4" y="732.3" width="513.1" height="1175.7" fill="none" stroke="#000" stroke-width="1.6" />
<line x1="1577.4" y1="1908" x2="1577.4" y2="1920.5" stroke="#000" stroke-width="1.5" />
<text x="1580.4" y="1958.4" font-size="33.4" text-anchor="middle" fill="#000" >0</text>
<line x1="1599.72" y1="1908" x2="1599.72" y2="1914.5" stroke="#000" stroke-width="1.5" />
<line x1="1622.05" y1="1908" x2="1622.05" y2="1914.5" stroke="#000" stroke-width="1.5" />
<line x1="1644.37" y1="1908" x2="1644.37" y2="1914.5" stroke="#000" stroke-width="1.5" />
<line x1="1666.7" y1="1908" x2="1666.7" y2="1914.5" stroke="#000" stroke-width="1.5" />
<line x1="1689.02" y1="1908" x2="1689.02" y2="1920.5" stroke="#000" stroke-width="1.5" />
<text x="1689.02" y="1958.4" font-size="33.4" text-anchor="middle" fill="#000" >0.4</text>
<line x1="1711.35" y1="1908" x2="1711.35" y2="1914.5" stroke="#000" stroke-width="1.5" />
<line x1="1733.67" y1="1908" x2="1733.67" y2="1914.5" stroke="#000" stroke-width="1.5" />
<line x1="1756" y1="1908" x2="1756" y2="1914.5" stroke="#000" stroke-width="1.5" />
<line x1="1778.32" y1="1908" x2="1778.32" y2="1914.5" stroke="#000" stroke-width="1.5" />
<line x1="1800.65" y1="1908" x2="1800.65" y2="1920.5" stroke="#000" stroke-width="1.5" />
<text x="1800.65" y="1958.4" font-size="33.4" text-anchor="middle" fill="#000" >0.8</text>
<line x1="1822.97" y1="1908" x2="1822.97" y2="1914.5" stroke="#000" stroke-width="1.5" />
<line x1="1845.3" y1="1908" x2="1845.3" y2="1914.5" stroke="#000" stroke-width="1.5" />
<line x1="1867.62" y1="1908" x2="1867.62" y2="1914.5" stroke="#000" stroke-width="1.5" />
<line x1="1889.95" y1="1908" x2="1889.95" y2="1914.5" stroke="#000" stroke-width="1.5" />
<line x1="1912.27" y1="1908" x2="1912.27" y2="1920.5" stroke="#000" stroke-width="1.5" />
<text x="1912.27" y="1958.4" font-size="33.4" text-anchor="middle" fill="#000" >1.2</text>
<line x1="1934.6" y1="1908" x2="1934.6" y2="1914.5" stroke="#000" stroke-width="1.5" />
<line x1="1956.92" y1="1908" x2="1956.92" y2="1914.5" stroke="#000" stroke-width="1.5" />
<line x1="1979.25" y1="1908" x2="1979.25" y2="1914.5" stroke="#000" stroke-width="1.5" />
<line x1="2001.57" y1="1908" x2="2001.57" y2="1914.5" stroke="#000" stroke-width="1.5" />
<line x1="2023.9" y1="1908" x2="2023.9" y2="1920.5" stroke="#000" stroke-width="1.5" />
<text x="2023.9" y="1958.4" font-size="33.4" text-anchor="middle" fill="#000" >1.6</text>
<line x1="2046.22" y1="1908" x2="2046.22" y2="1914.5" stroke="#000" stroke-width="1.5" />
<line x1="2068.55" y1="1908" x2="2068.55" y2="1914.5" stroke="#000" stroke-width="1.5" />
<line x1="2090.87" y1="1908" x2="2090.87" y2="1914.5" stroke="#000" stroke-width="1.5" />
<text x="1822" y="1997" font-size="33.4" text-anchor="middle" fill="#000" >Onset potential (V vs. RHE)</text>
<text x="1318" y="728" font-size="37.6" text-anchor="start" fill="#000" font-weight="bold" >H</text>
</svg></body></html>
